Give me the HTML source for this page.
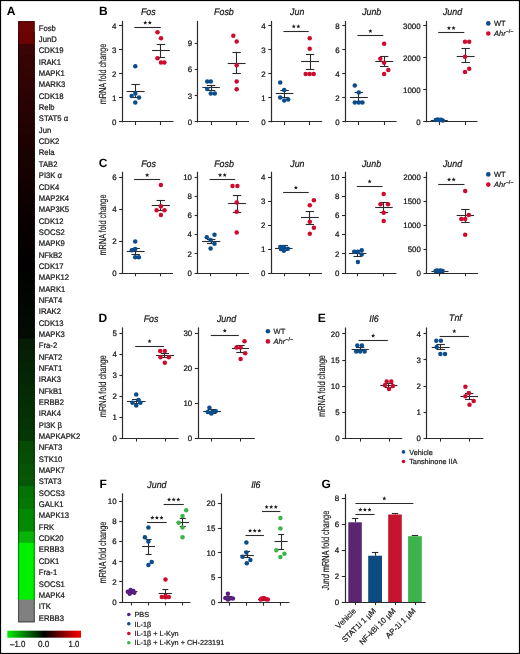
<!DOCTYPE html>
<html><head><meta charset="utf-8"><style>
html,body{margin:0;padding:0;background:#fff;}
body{width:520px;height:654px;overflow:hidden;}
svg{display:block;font-family:"Liberation Sans", sans-serif;text-rendering:geometricPrecision;will-change:transform;}
</style></head><body>
<svg width="520" height="654" viewBox="0 0 520 654">
<rect x="0" y="0" width="520" height="654" fill="#fff"/>
<rect x="18.1" y="21.1" width="16.6" height="22.69" fill="#6e0404"/>
<rect x="18.1" y="32.44" width="16.6" height="22.69" fill="#6a0404"/>
<rect x="18.1" y="43.79" width="16.6" height="22.69" fill="#3a0505"/>
<rect x="18.1" y="55.13" width="16.6" height="22.69" fill="#360404"/>
<rect x="18.1" y="66.47" width="16.6" height="22.69" fill="#330404"/>
<rect x="18.1" y="77.81" width="16.6" height="22.69" fill="#300404"/>
<rect x="18.1" y="89.16" width="16.6" height="22.69" fill="#2c0303"/>
<rect x="18.1" y="100.5" width="16.6" height="22.69" fill="#280303"/>
<rect x="18.1" y="111.84" width="16.6" height="22.69" fill="#250303"/>
<rect x="18.1" y="123.19" width="16.6" height="22.69" fill="#220303"/>
<rect x="18.1" y="134.53" width="16.6" height="22.69" fill="#1e0202"/>
<rect x="18.1" y="145.87" width="16.6" height="22.69" fill="#1b0202"/>
<rect x="18.1" y="157.22" width="16.6" height="22.69" fill="#180202"/>
<rect x="18.1" y="168.56" width="16.6" height="22.69" fill="#150101"/>
<rect x="18.1" y="179.9" width="16.6" height="22.69" fill="#120101"/>
<rect x="18.1" y="191.25" width="16.6" height="22.69" fill="#0f0101"/>
<rect x="18.1" y="202.59" width="16.6" height="22.69" fill="#0c0101"/>
<rect x="18.1" y="213.93" width="16.6" height="22.69" fill="#0a0000"/>
<rect x="18.1" y="225.27" width="16.6" height="22.69" fill="#080000"/>
<rect x="18.1" y="236.62" width="16.6" height="22.69" fill="#060000"/>
<rect x="18.1" y="247.96" width="16.6" height="22.69" fill="#040000"/>
<rect x="18.1" y="259.3" width="16.6" height="22.69" fill="#020000"/>
<rect x="18.1" y="270.65" width="16.6" height="22.69" fill="#010301"/>
<rect x="18.1" y="281.99" width="16.6" height="22.69" fill="#010501"/>
<rect x="18.1" y="293.33" width="16.6" height="22.69" fill="#020602"/>
<rect x="18.1" y="304.68" width="16.6" height="22.69" fill="#020802"/>
<rect x="18.1" y="316.02" width="16.6" height="22.69" fill="#030903"/>
<rect x="18.1" y="327.36" width="16.6" height="22.69" fill="#030b03"/>
<rect x="18.1" y="338.7" width="16.6" height="22.69" fill="#051d05"/>
<rect x="18.1" y="350.05" width="16.6" height="22.69" fill="#052005"/>
<rect x="18.1" y="361.39" width="16.6" height="22.69" fill="#052305"/>
<rect x="18.1" y="372.73" width="16.6" height="22.69" fill="#052605"/>
<rect x="18.1" y="384.08" width="16.6" height="22.69" fill="#052a05"/>
<rect x="18.1" y="395.42" width="16.6" height="22.69" fill="#052d05"/>
<rect x="18.1" y="406.76" width="16.6" height="22.69" fill="#053005"/>
<rect x="18.1" y="418.11" width="16.6" height="22.69" fill="#053305"/>
<rect x="18.1" y="429.45" width="16.6" height="22.69" fill="#053605"/>
<rect x="18.1" y="440.79" width="16.6" height="22.69" fill="#064a06"/>
<rect x="18.1" y="452.13" width="16.6" height="22.69" fill="#064e06"/>
<rect x="18.1" y="463.48" width="16.6" height="22.69" fill="#065406"/>
<rect x="18.1" y="474.82" width="16.6" height="22.69" fill="#065806"/>
<rect x="18.1" y="486.16" width="16.6" height="22.69" fill="#057205"/>
<rect x="18.1" y="497.51" width="16.6" height="22.69" fill="#057705"/>
<rect x="18.1" y="508.85" width="16.6" height="22.69" fill="#038803"/>
<rect x="18.1" y="520.19" width="16.6" height="22.69" fill="#038a03"/>
<rect x="18.1" y="531.53" width="16.6" height="22.69" fill="#08b408"/>
<rect x="18.1" y="542.88" width="16.6" height="22.69" fill="#00f000"/>
<rect x="18.1" y="554.22" width="16.6" height="22.69" fill="#00f000"/>
<rect x="18.1" y="565.56" width="16.6" height="22.69" fill="#00f000"/>
<rect x="18.1" y="576.91" width="16.6" height="22.69" fill="#00f000"/>
<rect x="18.1" y="588.25" width="16.6" height="22.69" fill="#00f000"/>
<rect x="18.1" y="599.59" width="16.6" height="22.69" fill="#808080"/>
<rect x="18.1" y="610.94" width="16.6" height="11.34" fill="#808080"/>
<rect x="18.6" y="21.6" width="15.6" height="600.18" fill="none" stroke="#000" stroke-opacity="0.45" stroke-width="1.0"/>
<g transform="translate(38.8,0) scale(0.95,1)">
<text x="0" y="30.7" font-size="8.1" text-anchor="start" font-weight="normal" font-style="normal" fill="#141414" stroke="#141414" stroke-width="0.22">Fosb</text>
<text x="0" y="42.04" font-size="8.1" text-anchor="start" font-weight="normal" font-style="normal" fill="#141414" stroke="#141414" stroke-width="0.22">JunD</text>
<text x="0" y="53.39" font-size="8.1" text-anchor="start" font-weight="normal" font-style="normal" fill="#141414" stroke="#141414" stroke-width="0.22">CDK19</text>
<text x="0" y="64.73" font-size="8.1" text-anchor="start" font-weight="normal" font-style="normal" fill="#141414" stroke="#141414" stroke-width="0.22">IRAK1</text>
<text x="0" y="76.07" font-size="8.1" text-anchor="start" font-weight="normal" font-style="normal" fill="#141414" stroke="#141414" stroke-width="0.22">MAPK1</text>
<text x="0" y="87.42" font-size="8.1" text-anchor="start" font-weight="normal" font-style="normal" fill="#141414" stroke="#141414" stroke-width="0.22">MARK3</text>
<text x="0" y="98.76" font-size="8.1" text-anchor="start" font-weight="normal" font-style="normal" fill="#141414" stroke="#141414" stroke-width="0.22">CDK18</text>
<text x="0" y="110.1" font-size="8.1" text-anchor="start" font-weight="normal" font-style="normal" fill="#141414" stroke="#141414" stroke-width="0.22">Relb</text>
<text x="0" y="121.44" font-size="8.1" text-anchor="start" font-weight="normal" font-style="normal" fill="#141414" stroke="#141414" stroke-width="0.22">STAT5 &#945;</text>
<text x="0" y="132.79" font-size="8.1" text-anchor="start" font-weight="normal" font-style="normal" fill="#141414" stroke="#141414" stroke-width="0.22">Jun</text>
<text x="0" y="144.13" font-size="8.1" text-anchor="start" font-weight="normal" font-style="normal" fill="#141414" stroke="#141414" stroke-width="0.22">CDK2</text>
<text x="0" y="155.47" font-size="8.1" text-anchor="start" font-weight="normal" font-style="normal" fill="#141414" stroke="#141414" stroke-width="0.22">Rela</text>
<text x="0" y="166.82" font-size="8.1" text-anchor="start" font-weight="normal" font-style="normal" fill="#141414" stroke="#141414" stroke-width="0.22">TAB2</text>
<text x="0" y="178.16" font-size="8.1" text-anchor="start" font-weight="normal" font-style="normal" fill="#141414" stroke="#141414" stroke-width="0.22">PI3K &#945;</text>
<text x="0" y="189.5" font-size="8.1" text-anchor="start" font-weight="normal" font-style="normal" fill="#141414" stroke="#141414" stroke-width="0.22">CDK4</text>
<text x="0" y="200.84" font-size="8.1" text-anchor="start" font-weight="normal" font-style="normal" fill="#141414" stroke="#141414" stroke-width="0.22">MAP2K4</text>
<text x="0" y="212.19" font-size="8.1" text-anchor="start" font-weight="normal" font-style="normal" fill="#141414" stroke="#141414" stroke-width="0.22">MAP3K5</text>
<text x="0" y="223.53" font-size="8.1" text-anchor="start" font-weight="normal" font-style="normal" fill="#141414" stroke="#141414" stroke-width="0.22">CDK12</text>
<text x="0" y="234.87" font-size="8.1" text-anchor="start" font-weight="normal" font-style="normal" fill="#141414" stroke="#141414" stroke-width="0.22">SOCS2</text>
<text x="0" y="246.22" font-size="8.1" text-anchor="start" font-weight="normal" font-style="normal" fill="#141414" stroke="#141414" stroke-width="0.22">MAPK9</text>
<text x="0" y="257.56" font-size="8.1" text-anchor="start" font-weight="normal" font-style="normal" fill="#141414" stroke="#141414" stroke-width="0.22">NFkB2</text>
<text x="0" y="268.9" font-size="8.1" text-anchor="start" font-weight="normal" font-style="normal" fill="#141414" stroke="#141414" stroke-width="0.22">CDK17</text>
<text x="0" y="280.25" font-size="8.1" text-anchor="start" font-weight="normal" font-style="normal" fill="#141414" stroke="#141414" stroke-width="0.22">MAPK12</text>
<text x="0" y="291.59" font-size="8.1" text-anchor="start" font-weight="normal" font-style="normal" fill="#141414" stroke="#141414" stroke-width="0.22">MARK1</text>
<text x="0" y="302.93" font-size="8.1" text-anchor="start" font-weight="normal" font-style="normal" fill="#141414" stroke="#141414" stroke-width="0.22">NFAT4</text>
<text x="0" y="314.27" font-size="8.1" text-anchor="start" font-weight="normal" font-style="normal" fill="#141414" stroke="#141414" stroke-width="0.22">IRAK2</text>
<text x="0" y="325.62" font-size="8.1" text-anchor="start" font-weight="normal" font-style="normal" fill="#141414" stroke="#141414" stroke-width="0.22">CDK13</text>
<text x="0" y="336.96" font-size="8.1" text-anchor="start" font-weight="normal" font-style="normal" fill="#141414" stroke="#141414" stroke-width="0.22">MAPK3</text>
<text x="0" y="348.3" font-size="8.1" text-anchor="start" font-weight="normal" font-style="normal" fill="#141414" stroke="#141414" stroke-width="0.22">Fra-2</text>
<text x="0" y="359.65" font-size="8.1" text-anchor="start" font-weight="normal" font-style="normal" fill="#141414" stroke="#141414" stroke-width="0.22">NFAT2</text>
<text x="0" y="370.99" font-size="8.1" text-anchor="start" font-weight="normal" font-style="normal" fill="#141414" stroke="#141414" stroke-width="0.22">NFAT1</text>
<text x="0" y="382.33" font-size="8.1" text-anchor="start" font-weight="normal" font-style="normal" fill="#141414" stroke="#141414" stroke-width="0.22">IRAK3</text>
<text x="0" y="393.68" font-size="8.1" text-anchor="start" font-weight="normal" font-style="normal" fill="#141414" stroke="#141414" stroke-width="0.22">NFkB1</text>
<text x="0" y="405.02" font-size="8.1" text-anchor="start" font-weight="normal" font-style="normal" fill="#141414" stroke="#141414" stroke-width="0.22">ERBB2</text>
<text x="0" y="416.36" font-size="8.1" text-anchor="start" font-weight="normal" font-style="normal" fill="#141414" stroke="#141414" stroke-width="0.22">IRAK4</text>
<text x="0" y="427.7" font-size="8.1" text-anchor="start" font-weight="normal" font-style="normal" fill="#141414" stroke="#141414" stroke-width="0.22">PI3K &#946;</text>
<text x="0" y="439.05" font-size="8.1" text-anchor="start" font-weight="normal" font-style="normal" fill="#141414" stroke="#141414" stroke-width="0.22">MAPKAPK2</text>
<text x="0" y="450.39" font-size="8.1" text-anchor="start" font-weight="normal" font-style="normal" fill="#141414" stroke="#141414" stroke-width="0.22">NFAT3</text>
<text x="0" y="461.73" font-size="8.1" text-anchor="start" font-weight="normal" font-style="normal" fill="#141414" stroke="#141414" stroke-width="0.22">STK10</text>
<text x="0" y="473.08" font-size="8.1" text-anchor="start" font-weight="normal" font-style="normal" fill="#141414" stroke="#141414" stroke-width="0.22">MAPK7</text>
<text x="0" y="484.42" font-size="8.1" text-anchor="start" font-weight="normal" font-style="normal" fill="#141414" stroke="#141414" stroke-width="0.22">STAT3</text>
<text x="0" y="495.76" font-size="8.1" text-anchor="start" font-weight="normal" font-style="normal" fill="#141414" stroke="#141414" stroke-width="0.22">SOCS3</text>
<text x="0" y="507.11" font-size="8.1" text-anchor="start" font-weight="normal" font-style="normal" fill="#141414" stroke="#141414" stroke-width="0.22">GALK1</text>
<text x="0" y="518.45" font-size="8.1" text-anchor="start" font-weight="normal" font-style="normal" fill="#141414" stroke="#141414" stroke-width="0.22">MAPK13</text>
<text x="0" y="529.79" font-size="8.1" text-anchor="start" font-weight="normal" font-style="normal" fill="#141414" stroke="#141414" stroke-width="0.22">FRK</text>
<text x="0" y="541.13" font-size="8.1" text-anchor="start" font-weight="normal" font-style="normal" fill="#141414" stroke="#141414" stroke-width="0.22">CDK20</text>
<text x="0" y="552.48" font-size="8.1" text-anchor="start" font-weight="normal" font-style="normal" fill="#141414" stroke="#141414" stroke-width="0.22">ERBB3</text>
<text x="0" y="563.82" font-size="8.1" text-anchor="start" font-weight="normal" font-style="normal" fill="#141414" stroke="#141414" stroke-width="0.22">CDK1</text>
<text x="0" y="575.16" font-size="8.1" text-anchor="start" font-weight="normal" font-style="normal" fill="#141414" stroke="#141414" stroke-width="0.22">Fra-1</text>
<text x="0" y="586.51" font-size="8.1" text-anchor="start" font-weight="normal" font-style="normal" fill="#141414" stroke="#141414" stroke-width="0.22">SOCS1</text>
<text x="0" y="597.85" font-size="8.1" text-anchor="start" font-weight="normal" font-style="normal" fill="#141414" stroke="#141414" stroke-width="0.22">MAPK4</text>
<text x="0" y="609.19" font-size="8.1" text-anchor="start" font-weight="normal" font-style="normal" fill="#141414" stroke="#141414" stroke-width="0.22">ITK</text>
<text x="0" y="620.54" font-size="8.1" text-anchor="start" font-weight="normal" font-style="normal" fill="#141414" stroke="#141414" stroke-width="0.22">ERBB3</text>
</g>
<defs><linearGradient id="cb" x1="0" x2="1" y1="0" y2="0"><stop offset="0" stop-color="#00f000"/><stop offset="0.5" stop-color="#000"/><stop offset="1" stop-color="#ff0000"/></linearGradient></defs>
<rect x="7.3" y="630.7" width="73.7" height="7" fill="url(#cb)"/>
<text x="10" y="647.3" font-size="8.8" text-anchor="start" font-weight="normal" font-style="normal" fill="#141414" textLength="15.4" lengthAdjust="spacingAndGlyphs" stroke="#141414" stroke-width="0.22">&#8211;1.0</text>
<text x="38" y="647.3" font-size="8.8" text-anchor="start" font-weight="normal" font-style="normal" fill="#141414" textLength="11.4" lengthAdjust="spacingAndGlyphs" stroke="#141414" stroke-width="0.22">0.0</text>
<text x="68.6" y="647.3" font-size="8.8" text-anchor="start" font-weight="normal" font-style="normal" fill="#141414" textLength="10.8" lengthAdjust="spacingAndGlyphs" stroke="#141414" stroke-width="0.22">1.0</text>
<text x="6.7" y="14.9" font-size="12" text-anchor="start" font-weight="bold" font-style="normal" fill="#000">A</text>
<text x="99" y="14.9" font-size="12" text-anchor="start" font-weight="bold" font-style="normal" fill="#000">B</text>
<text x="98.8" y="166.5" font-size="12" text-anchor="start" font-weight="bold" font-style="normal" fill="#000">C</text>
<text x="98.5" y="322" font-size="12" text-anchor="start" font-weight="bold" font-style="normal" fill="#000">D</text>
<text x="317.8" y="322.2" font-size="12" text-anchor="start" font-weight="bold" font-style="normal" fill="#000">E</text>
<text x="99.6" y="487.9" font-size="12" text-anchor="start" font-weight="bold" font-style="normal" fill="#000">F</text>
<text x="321.4" y="487.7" font-size="12" text-anchor="start" font-weight="bold" font-style="normal" fill="#000">G</text>
<line x1="122.5" y1="20.9" x2="122.5" y2="122.35" stroke="#2b2b2b" stroke-width="1.2"/>
<line x1="121.6" y1="121.5" x2="173.5" y2="121.5" stroke="#2b2b2b" stroke-width="1.2"/>
<line x1="119" y1="121.5" x2="122.2" y2="121.5" stroke="#2b2b2b" stroke-width="1.1"/>
<text x="116.4" y="124.65" font-size="7.9" text-anchor="end" font-weight="normal" font-style="normal" fill="#111" stroke="#111" stroke-width="0.22">0</text>
<line x1="119" y1="97.5" x2="122.2" y2="97.5" stroke="#2b2b2b" stroke-width="1.1"/>
<text x="116.4" y="100.65" font-size="7.9" text-anchor="end" font-weight="normal" font-style="normal" fill="#111" stroke="#111" stroke-width="0.22">1</text>
<line x1="119" y1="73.5" x2="122.2" y2="73.5" stroke="#2b2b2b" stroke-width="1.1"/>
<text x="116.4" y="76.65" font-size="7.9" text-anchor="end" font-weight="normal" font-style="normal" fill="#111" stroke="#111" stroke-width="0.22">2</text>
<line x1="119" y1="49.5" x2="122.2" y2="49.5" stroke="#2b2b2b" stroke-width="1.1"/>
<text x="116.4" y="52.65" font-size="7.9" text-anchor="end" font-weight="normal" font-style="normal" fill="#111" stroke="#111" stroke-width="0.22">3</text>
<line x1="119" y1="25.5" x2="122.2" y2="25.5" stroke="#2b2b2b" stroke-width="1.1"/>
<text x="116.4" y="28.65" font-size="7.9" text-anchor="end" font-weight="normal" font-style="normal" fill="#111" stroke="#111" stroke-width="0.22">4</text>
<line x1="135.5" y1="121.8" x2="135.5" y2="125.1" stroke="#2b2b2b" stroke-width="1.1"/>
<line x1="160.5" y1="121.8" x2="160.5" y2="125.1" stroke="#2b2b2b" stroke-width="1.1"/>
<g transform="translate(148.3,15.4) scale(0.92,1)">
<text x="0" y="0" font-size="9.6" text-anchor="middle" font-weight="normal" font-style="italic" fill="#141414" stroke="#141414" stroke-width="0.22">Fos</text>
</g>
<g transform="translate(105.9,74) rotate(-90)">
<text x="0" y="0" font-size="10.2" text-anchor="middle" font-weight="normal" font-style="normal" fill="#141414" textLength="60.7" lengthAdjust="spacingAndGlyphs" stroke="#141414" stroke-width="0.14">mRNA fold change</text>
</g>
<line x1="134.3" y1="27.5" x2="160.8" y2="27.5" stroke="#2b2b2b" stroke-width="1.1"/>
<polygon points="145.25,20.5 145.81,21.93 147.34,22.02 146.15,22.99 146.54,24.48 145.25,23.65 143.96,24.48 144.35,22.99 143.16,22.02 144.69,21.93" fill="#1a1a1a"/>
<polygon points="149.85,20.5 150.41,21.93 151.94,22.02 150.75,22.99 151.14,24.48 149.85,23.65 148.56,24.48 148.95,22.99 147.76,22.02 149.29,21.93" fill="#1a1a1a"/>
<line x1="126.6" y1="91.5" x2="144.6" y2="91.5" stroke="#2b2b2b" stroke-width="1.1"/>
<line x1="135.5" y1="84.4" x2="135.5" y2="97.8" stroke="#2b2b2b" stroke-width="1.1"/>
<line x1="131.4" y1="84.5" x2="139.8" y2="84.5" stroke="#2b2b2b" stroke-width="1.1"/>
<line x1="131.4" y1="97.5" x2="139.8" y2="97.5" stroke="#2b2b2b" stroke-width="1.1"/>
<line x1="152.1" y1="50.5" x2="169.8" y2="50.5" stroke="#2b2b2b" stroke-width="1.1"/>
<line x1="160.5" y1="44.4" x2="160.5" y2="57.3" stroke="#2b2b2b" stroke-width="1.1"/>
<line x1="156.75" y1="44.5" x2="165.15" y2="44.5" stroke="#2b2b2b" stroke-width="1.1"/>
<line x1="156.75" y1="57.5" x2="165.15" y2="57.5" stroke="#2b2b2b" stroke-width="1.1"/>
<circle cx="135.3" cy="66.3" r="2.25" fill="#0b4c8c"/>
<circle cx="131.6" cy="96.1" r="2.25" fill="#0b4c8c"/>
<circle cx="135.3" cy="93.4" r="2.25" fill="#0b4c8c"/>
<circle cx="139" cy="97.6" r="2.25" fill="#0b4c8c"/>
<circle cx="135.3" cy="102.4" r="2.25" fill="#0b4c8c"/>
<circle cx="157.5" cy="32.2" r="2.25" fill="#cf0a2c"/>
<circle cx="161" cy="38.2" r="2.25" fill="#cf0a2c"/>
<circle cx="157.5" cy="58.3" r="2.25" fill="#cf0a2c"/>
<circle cx="161" cy="62.5" r="2.25" fill="#cf0a2c"/>
<circle cx="164.4" cy="62.5" r="2.25" fill="#cf0a2c"/>
<line x1="197.5" y1="20.9" x2="197.5" y2="122.35" stroke="#2b2b2b" stroke-width="1.2"/>
<line x1="197.3" y1="121.5" x2="249" y2="121.5" stroke="#2b2b2b" stroke-width="1.2"/>
<line x1="194.7" y1="121.5" x2="197.9" y2="121.5" stroke="#2b2b2b" stroke-width="1.1"/>
<text x="192.1" y="124.65" font-size="7.9" text-anchor="end" font-weight="normal" font-style="normal" fill="#111" stroke="#111" stroke-width="0.22">0</text>
<line x1="194.7" y1="95.5" x2="197.9" y2="95.5" stroke="#2b2b2b" stroke-width="1.1"/>
<text x="192.1" y="98.55" font-size="7.9" text-anchor="end" font-weight="normal" font-style="normal" fill="#111" stroke="#111" stroke-width="0.22">3</text>
<line x1="194.7" y1="69.5" x2="197.9" y2="69.5" stroke="#2b2b2b" stroke-width="1.1"/>
<text x="192.1" y="72.45" font-size="7.9" text-anchor="end" font-weight="normal" font-style="normal" fill="#111" stroke="#111" stroke-width="0.22">6</text>
<line x1="194.7" y1="43.5" x2="197.9" y2="43.5" stroke="#2b2b2b" stroke-width="1.1"/>
<text x="192.1" y="46.35" font-size="7.9" text-anchor="end" font-weight="normal" font-style="normal" fill="#111" stroke="#111" stroke-width="0.22">9</text>
<line x1="211.5" y1="121.8" x2="211.5" y2="125.1" stroke="#2b2b2b" stroke-width="1.1"/>
<line x1="236.5" y1="121.8" x2="236.5" y2="125.1" stroke="#2b2b2b" stroke-width="1.1"/>
<g transform="translate(223.9,15.4) scale(0.92,1)">
<text x="0" y="0" font-size="9.6" text-anchor="middle" font-weight="normal" font-style="italic" fill="#141414" stroke="#141414" stroke-width="0.22">Fosb</text>
</g>
<line x1="202.4" y1="87.5" x2="219.8" y2="87.5" stroke="#2b2b2b" stroke-width="1.1"/>
<line x1="211.5" y1="85.2" x2="211.5" y2="90.1" stroke="#2b2b2b" stroke-width="1.1"/>
<line x1="206.9" y1="85.5" x2="215.3" y2="85.5" stroke="#2b2b2b" stroke-width="1.1"/>
<line x1="206.9" y1="90.5" x2="215.3" y2="90.5" stroke="#2b2b2b" stroke-width="1.1"/>
<line x1="227.7" y1="63.5" x2="245.6" y2="63.5" stroke="#2b2b2b" stroke-width="1.1"/>
<line x1="236.5" y1="52.1" x2="236.5" y2="73" stroke="#2b2b2b" stroke-width="1.1"/>
<line x1="232.45" y1="52.5" x2="240.85" y2="52.5" stroke="#2b2b2b" stroke-width="1.1"/>
<line x1="232.45" y1="73.5" x2="240.85" y2="73.5" stroke="#2b2b2b" stroke-width="1.1"/>
<circle cx="207.2" cy="81.6" r="2.25" fill="#0b4c8c"/>
<circle cx="210.8" cy="81.6" r="2.25" fill="#0b4c8c"/>
<circle cx="207.2" cy="89" r="2.25" fill="#0b4c8c"/>
<circle cx="210.8" cy="93.5" r="2.25" fill="#0b4c8c"/>
<circle cx="214.8" cy="93.5" r="2.25" fill="#0b4c8c"/>
<circle cx="233.3" cy="35.8" r="2.25" fill="#cf0a2c"/>
<circle cx="236.7" cy="41.4" r="2.25" fill="#cf0a2c"/>
<circle cx="236.7" cy="65.3" r="2.25" fill="#cf0a2c"/>
<circle cx="236.7" cy="81.6" r="2.25" fill="#cf0a2c"/>
<circle cx="236.7" cy="89.2" r="2.25" fill="#cf0a2c"/>
<line x1="271.5" y1="20.9" x2="271.5" y2="122.35" stroke="#2b2b2b" stroke-width="1.2"/>
<line x1="270.9" y1="121.5" x2="322.2" y2="121.5" stroke="#2b2b2b" stroke-width="1.2"/>
<line x1="268.3" y1="121.5" x2="271.5" y2="121.5" stroke="#2b2b2b" stroke-width="1.1"/>
<text x="265.7" y="124.65" font-size="7.9" text-anchor="end" font-weight="normal" font-style="normal" fill="#111" stroke="#111" stroke-width="0.22">0</text>
<line x1="268.3" y1="97.5" x2="271.5" y2="97.5" stroke="#2b2b2b" stroke-width="1.1"/>
<text x="265.7" y="100.65" font-size="7.9" text-anchor="end" font-weight="normal" font-style="normal" fill="#111" stroke="#111" stroke-width="0.22">1</text>
<line x1="268.3" y1="73.5" x2="271.5" y2="73.5" stroke="#2b2b2b" stroke-width="1.1"/>
<text x="265.7" y="76.65" font-size="7.9" text-anchor="end" font-weight="normal" font-style="normal" fill="#111" stroke="#111" stroke-width="0.22">2</text>
<line x1="268.3" y1="49.5" x2="271.5" y2="49.5" stroke="#2b2b2b" stroke-width="1.1"/>
<text x="265.7" y="52.65" font-size="7.9" text-anchor="end" font-weight="normal" font-style="normal" fill="#111" stroke="#111" stroke-width="0.22">3</text>
<line x1="268.3" y1="25.5" x2="271.5" y2="25.5" stroke="#2b2b2b" stroke-width="1.1"/>
<text x="265.7" y="28.65" font-size="7.9" text-anchor="end" font-weight="normal" font-style="normal" fill="#111" stroke="#111" stroke-width="0.22">4</text>
<line x1="284.5" y1="121.8" x2="284.5" y2="125.1" stroke="#2b2b2b" stroke-width="1.1"/>
<line x1="309.5" y1="121.8" x2="309.5" y2="125.1" stroke="#2b2b2b" stroke-width="1.1"/>
<g transform="translate(297.2,15.4) scale(0.92,1)">
<text x="0" y="0" font-size="9.6" text-anchor="middle" font-weight="normal" font-style="italic" fill="#141414" stroke="#141414" stroke-width="0.22">Jun</text>
</g>
<line x1="283.4" y1="31.5" x2="308.7" y2="31.5" stroke="#2b2b2b" stroke-width="1.1"/>
<polygon points="293.75,24.3 294.31,25.73 295.84,25.82 294.65,26.79 295.04,28.28 293.75,27.45 292.46,28.28 292.85,26.79 291.66,25.82 293.19,25.73" fill="#1a1a1a"/>
<polygon points="298.35,24.3 298.91,25.73 300.44,25.82 299.25,26.79 299.64,28.28 298.35,27.45 297.06,28.28 297.45,26.79 296.26,25.82 297.79,25.73" fill="#1a1a1a"/>
<line x1="275.8" y1="93.5" x2="293.4" y2="93.5" stroke="#2b2b2b" stroke-width="1.1"/>
<line x1="284.5" y1="90.9" x2="284.5" y2="97.1" stroke="#2b2b2b" stroke-width="1.1"/>
<line x1="280.4" y1="90.5" x2="288.8" y2="90.5" stroke="#2b2b2b" stroke-width="1.1"/>
<line x1="280.4" y1="97.5" x2="288.8" y2="97.5" stroke="#2b2b2b" stroke-width="1.1"/>
<line x1="301.1" y1="61.5" x2="319" y2="61.5" stroke="#2b2b2b" stroke-width="1.1"/>
<line x1="310.5" y1="54.1" x2="310.5" y2="69.1" stroke="#2b2b2b" stroke-width="1.1"/>
<line x1="305.85" y1="54.5" x2="314.25" y2="54.5" stroke="#2b2b2b" stroke-width="1.1"/>
<line x1="305.85" y1="69.5" x2="314.25" y2="69.5" stroke="#2b2b2b" stroke-width="1.1"/>
<circle cx="280.2" cy="82.6" r="2.25" fill="#0b4c8c"/>
<circle cx="284.2" cy="90" r="2.25" fill="#0b4c8c"/>
<circle cx="280.2" cy="97.5" r="2.25" fill="#0b4c8c"/>
<circle cx="284.2" cy="100.5" r="2.25" fill="#0b4c8c"/>
<circle cx="288.2" cy="99.5" r="2.25" fill="#0b4c8c"/>
<circle cx="309.7" cy="38.2" r="2.25" fill="#cf0a2c"/>
<circle cx="309.7" cy="48.8" r="2.25" fill="#cf0a2c"/>
<circle cx="305.7" cy="74" r="2.25" fill="#cf0a2c"/>
<circle cx="309.7" cy="74" r="2.25" fill="#cf0a2c"/>
<circle cx="313.7" cy="74" r="2.25" fill="#cf0a2c"/>
<line x1="345.5" y1="20.9" x2="345.5" y2="122.35" stroke="#2b2b2b" stroke-width="1.2"/>
<line x1="344.9" y1="121.5" x2="396.6" y2="121.5" stroke="#2b2b2b" stroke-width="1.2"/>
<line x1="342.3" y1="121.5" x2="345.5" y2="121.5" stroke="#2b2b2b" stroke-width="1.1"/>
<text x="339.7" y="124.65" font-size="7.9" text-anchor="end" font-weight="normal" font-style="normal" fill="#111" stroke="#111" stroke-width="0.22">0</text>
<line x1="342.3" y1="97.5" x2="345.5" y2="97.5" stroke="#2b2b2b" stroke-width="1.1"/>
<text x="339.7" y="100.65" font-size="7.9" text-anchor="end" font-weight="normal" font-style="normal" fill="#111" stroke="#111" stroke-width="0.22">2</text>
<line x1="342.3" y1="73.5" x2="345.5" y2="73.5" stroke="#2b2b2b" stroke-width="1.1"/>
<text x="339.7" y="76.65" font-size="7.9" text-anchor="end" font-weight="normal" font-style="normal" fill="#111" stroke="#111" stroke-width="0.22">4</text>
<line x1="342.3" y1="49.5" x2="345.5" y2="49.5" stroke="#2b2b2b" stroke-width="1.1"/>
<text x="339.7" y="52.65" font-size="7.9" text-anchor="end" font-weight="normal" font-style="normal" fill="#111" stroke="#111" stroke-width="0.22">6</text>
<line x1="342.3" y1="25.5" x2="345.5" y2="25.5" stroke="#2b2b2b" stroke-width="1.1"/>
<text x="339.7" y="28.65" font-size="7.9" text-anchor="end" font-weight="normal" font-style="normal" fill="#111" stroke="#111" stroke-width="0.22">8</text>
<line x1="358.5" y1="121.8" x2="358.5" y2="125.1" stroke="#2b2b2b" stroke-width="1.1"/>
<line x1="384.5" y1="121.8" x2="384.5" y2="125.1" stroke="#2b2b2b" stroke-width="1.1"/>
<g transform="translate(371.7,15.4) scale(0.92,1)">
<text x="0" y="0" font-size="9.6" text-anchor="middle" font-weight="normal" font-style="italic" fill="#141414" stroke="#141414" stroke-width="0.22">Junb</text>
</g>
<line x1="357.4" y1="35.5" x2="383.3" y2="35.5" stroke="#2b2b2b" stroke-width="1.1"/>
<polygon points="370.35,28.9 370.91,30.33 372.44,30.42 371.25,31.39 371.64,32.88 370.35,32.05 369.06,32.88 369.45,31.39 368.26,30.42 369.79,30.33" fill="#1a1a1a"/>
<line x1="349.9" y1="97.5" x2="367.8" y2="97.5" stroke="#2b2b2b" stroke-width="1.1"/>
<line x1="358.5" y1="92.5" x2="358.5" y2="101.9" stroke="#2b2b2b" stroke-width="1.1"/>
<line x1="354.65" y1="92.5" x2="363.05" y2="92.5" stroke="#2b2b2b" stroke-width="1.1"/>
<line x1="354.65" y1="101.5" x2="363.05" y2="101.5" stroke="#2b2b2b" stroke-width="1.1"/>
<line x1="375.3" y1="61.5" x2="393.2" y2="61.5" stroke="#2b2b2b" stroke-width="1.1"/>
<line x1="384.5" y1="56.7" x2="384.5" y2="66.7" stroke="#2b2b2b" stroke-width="1.1"/>
<line x1="380.05" y1="56.5" x2="388.45" y2="56.5" stroke="#2b2b2b" stroke-width="1.1"/>
<line x1="380.05" y1="66.5" x2="388.45" y2="66.5" stroke="#2b2b2b" stroke-width="1.1"/>
<circle cx="354.8" cy="85.6" r="2.25" fill="#0b4c8c"/>
<circle cx="358.8" cy="92.5" r="2.25" fill="#0b4c8c"/>
<circle cx="354.8" cy="102.5" r="2.25" fill="#0b4c8c"/>
<circle cx="358.8" cy="102.5" r="2.25" fill="#0b4c8c"/>
<circle cx="362.4" cy="102.5" r="2.25" fill="#0b4c8c"/>
<circle cx="384.1" cy="43.8" r="2.25" fill="#cf0a2c"/>
<circle cx="380.3" cy="58.7" r="2.25" fill="#cf0a2c"/>
<circle cx="384.1" cy="62.7" r="2.25" fill="#cf0a2c"/>
<circle cx="388.3" cy="70" r="2.25" fill="#cf0a2c"/>
<circle cx="384.1" cy="74" r="2.25" fill="#cf0a2c"/>
<line x1="426.5" y1="20.9" x2="426.5" y2="122.35" stroke="#2b2b2b" stroke-width="1.2"/>
<line x1="425.8" y1="121.5" x2="477.5" y2="121.5" stroke="#2b2b2b" stroke-width="1.2"/>
<line x1="423.2" y1="121.5" x2="426.4" y2="121.5" stroke="#2b2b2b" stroke-width="1.1"/>
<text x="420.6" y="124.65" font-size="7.9" text-anchor="end" font-weight="normal" font-style="normal" fill="#111" stroke="#111" stroke-width="0.22">0</text>
<line x1="423.2" y1="89.5" x2="426.4" y2="89.5" stroke="#2b2b2b" stroke-width="1.1"/>
<text x="420.6" y="92.65" font-size="7.9" text-anchor="end" font-weight="normal" font-style="normal" fill="#111" stroke="#111" stroke-width="0.22">1000</text>
<line x1="423.2" y1="57.5" x2="426.4" y2="57.5" stroke="#2b2b2b" stroke-width="1.1"/>
<text x="420.6" y="60.65" font-size="7.9" text-anchor="end" font-weight="normal" font-style="normal" fill="#111" stroke="#111" stroke-width="0.22">2000</text>
<line x1="423.2" y1="25.5" x2="426.4" y2="25.5" stroke="#2b2b2b" stroke-width="1.1"/>
<text x="420.6" y="28.65" font-size="7.9" text-anchor="end" font-weight="normal" font-style="normal" fill="#111" stroke="#111" stroke-width="0.22">3000</text>
<line x1="439.5" y1="121.8" x2="439.5" y2="125.1" stroke="#2b2b2b" stroke-width="1.1"/>
<line x1="465.5" y1="121.8" x2="465.5" y2="125.1" stroke="#2b2b2b" stroke-width="1.1"/>
<g transform="translate(452.5,15.4) scale(0.92,1)">
<text x="0" y="0" font-size="9.6" text-anchor="middle" font-weight="normal" font-style="italic" fill="#141414" stroke="#141414" stroke-width="0.22">Jund</text>
</g>
<line x1="438.2" y1="32.5" x2="464.3" y2="32.5" stroke="#2b2b2b" stroke-width="1.1"/>
<polygon points="448.95,25.9 449.51,27.33 451.04,27.42 449.85,28.39 450.24,29.88 448.95,29.05 447.66,29.88 448.05,28.39 446.86,27.42 448.39,27.33" fill="#1a1a1a"/>
<polygon points="453.55,25.9 454.11,27.33 455.64,27.42 454.45,28.39 454.84,29.88 453.55,29.05 452.26,29.88 452.65,28.39 451.46,27.42 452.99,27.33" fill="#1a1a1a"/>
<line x1="430.8" y1="120.5" x2="447.7" y2="120.5" stroke="#2b2b2b" stroke-width="1.1"/>
<line x1="439.5" y1="119" x2="439.5" y2="121.5" stroke="#2b2b2b" stroke-width="1.1"/>
<line x1="435.05" y1="119.5" x2="443.45" y2="119.5" stroke="#2b2b2b" stroke-width="1.1"/>
<line x1="435.05" y1="121.5" x2="443.45" y2="121.5" stroke="#2b2b2b" stroke-width="1.1"/>
<line x1="456.7" y1="56.5" x2="474.6" y2="56.5" stroke="#2b2b2b" stroke-width="1.1"/>
<line x1="465.5" y1="48.8" x2="465.5" y2="62.3" stroke="#2b2b2b" stroke-width="1.1"/>
<line x1="461.45" y1="48.5" x2="469.85" y2="48.5" stroke="#2b2b2b" stroke-width="1.1"/>
<line x1="461.45" y1="62.5" x2="469.85" y2="62.5" stroke="#2b2b2b" stroke-width="1.1"/>
<circle cx="435.8" cy="120" r="2.25" fill="#0b4c8c"/>
<circle cx="439.8" cy="120" r="2.25" fill="#0b4c8c"/>
<circle cx="442.8" cy="120.4" r="2.25" fill="#0b4c8c"/>
<circle cx="437.8" cy="119.6" r="2.25" fill="#0b4c8c"/>
<circle cx="441" cy="119.8" r="2.25" fill="#0b4c8c"/>
<circle cx="465" cy="41.8" r="2.25" fill="#cf0a2c"/>
<circle cx="469.2" cy="41.8" r="2.25" fill="#cf0a2c"/>
<circle cx="465" cy="56.7" r="2.25" fill="#cf0a2c"/>
<circle cx="469.2" cy="68.7" r="2.25" fill="#cf0a2c"/>
<circle cx="465" cy="72" r="2.25" fill="#cf0a2c"/>
<line x1="122.5" y1="171.7" x2="122.5" y2="273.55" stroke="#2b2b2b" stroke-width="1.2"/>
<line x1="121.8" y1="273.5" x2="173" y2="273.5" stroke="#2b2b2b" stroke-width="1.2"/>
<line x1="119.2" y1="273.5" x2="122.4" y2="273.5" stroke="#2b2b2b" stroke-width="1.1"/>
<text x="116.6" y="275.85" font-size="7.9" text-anchor="end" font-weight="normal" font-style="normal" fill="#111" stroke="#111" stroke-width="0.22">0</text>
<line x1="119.2" y1="241.5" x2="122.4" y2="241.5" stroke="#2b2b2b" stroke-width="1.1"/>
<text x="116.6" y="243.85" font-size="7.9" text-anchor="end" font-weight="normal" font-style="normal" fill="#111" stroke="#111" stroke-width="0.22">2</text>
<line x1="119.2" y1="209.5" x2="122.4" y2="209.5" stroke="#2b2b2b" stroke-width="1.1"/>
<text x="116.6" y="211.85" font-size="7.9" text-anchor="end" font-weight="normal" font-style="normal" fill="#111" stroke="#111" stroke-width="0.22">4</text>
<line x1="119.2" y1="177.5" x2="122.4" y2="177.5" stroke="#2b2b2b" stroke-width="1.1"/>
<text x="116.6" y="179.85" font-size="7.9" text-anchor="end" font-weight="normal" font-style="normal" fill="#111" stroke="#111" stroke-width="0.22">6</text>
<line x1="135.5" y1="273" x2="135.5" y2="276.3" stroke="#2b2b2b" stroke-width="1.1"/>
<line x1="160.5" y1="273" x2="160.5" y2="276.3" stroke="#2b2b2b" stroke-width="1.1"/>
<g transform="translate(148.5,166.7) scale(0.92,1)">
<text x="0" y="0" font-size="9.6" text-anchor="middle" font-weight="normal" font-style="italic" fill="#141414" stroke="#141414" stroke-width="0.22">Fos</text>
</g>
<g transform="translate(106,225) rotate(-90)">
<text x="0" y="0" font-size="10.2" text-anchor="middle" font-weight="normal" font-style="normal" fill="#141414" textLength="61" lengthAdjust="spacingAndGlyphs" stroke="#141414" stroke-width="0.14">mRNA fold change</text>
</g>
<line x1="134.1" y1="179.5" x2="160.2" y2="179.5" stroke="#2b2b2b" stroke-width="1.1"/>
<polygon points="147.15,172.9 147.71,174.33 149.24,174.42 148.05,175.39 148.44,176.88 147.15,176.05 145.86,176.88 146.25,175.39 145.06,174.42 146.59,174.33" fill="#1a1a1a"/>
<line x1="126.7" y1="251.5" x2="144.6" y2="251.5" stroke="#2b2b2b" stroke-width="1.1"/>
<line x1="135.5" y1="248" x2="135.5" y2="254.4" stroke="#2b2b2b" stroke-width="1.1"/>
<line x1="131.45" y1="248.5" x2="139.85" y2="248.5" stroke="#2b2b2b" stroke-width="1.1"/>
<line x1="131.45" y1="254.5" x2="139.85" y2="254.5" stroke="#2b2b2b" stroke-width="1.1"/>
<line x1="151.7" y1="205.5" x2="169.9" y2="205.5" stroke="#2b2b2b" stroke-width="1.1"/>
<line x1="160.5" y1="200.3" x2="160.5" y2="210.2" stroke="#2b2b2b" stroke-width="1.1"/>
<line x1="156.6" y1="200.5" x2="165" y2="200.5" stroke="#2b2b2b" stroke-width="1.1"/>
<line x1="156.6" y1="210.5" x2="165" y2="210.5" stroke="#2b2b2b" stroke-width="1.1"/>
<circle cx="135.2" cy="241.6" r="2.25" fill="#0b4c8c"/>
<circle cx="131.8" cy="250.2" r="2.25" fill="#0b4c8c"/>
<circle cx="135.2" cy="249.1" r="2.25" fill="#0b4c8c"/>
<circle cx="135.2" cy="257.2" r="2.25" fill="#0b4c8c"/>
<circle cx="138.9" cy="257.2" r="2.25" fill="#0b4c8c"/>
<circle cx="160.9" cy="184.9" r="2.25" fill="#cf0a2c"/>
<circle cx="160.9" cy="206.3" r="2.25" fill="#cf0a2c"/>
<circle cx="156.6" cy="210.2" r="2.25" fill="#cf0a2c"/>
<circle cx="164.5" cy="210.2" r="2.25" fill="#cf0a2c"/>
<circle cx="160.9" cy="214.9" r="2.25" fill="#cf0a2c"/>
<line x1="197.5" y1="171.7" x2="197.5" y2="273.55" stroke="#2b2b2b" stroke-width="1.2"/>
<line x1="197.2" y1="273.5" x2="249" y2="273.5" stroke="#2b2b2b" stroke-width="1.2"/>
<line x1="194.6" y1="273.5" x2="197.8" y2="273.5" stroke="#2b2b2b" stroke-width="1.1"/>
<text x="192" y="275.85" font-size="7.9" text-anchor="end" font-weight="normal" font-style="normal" fill="#111" stroke="#111" stroke-width="0.22">0</text>
<line x1="194.6" y1="253.5" x2="197.8" y2="253.5" stroke="#2b2b2b" stroke-width="1.1"/>
<text x="192" y="256.65" font-size="7.9" text-anchor="end" font-weight="normal" font-style="normal" fill="#111" stroke="#111" stroke-width="0.22">2</text>
<line x1="194.6" y1="234.5" x2="197.8" y2="234.5" stroke="#2b2b2b" stroke-width="1.1"/>
<text x="192" y="237.45" font-size="7.9" text-anchor="end" font-weight="normal" font-style="normal" fill="#111" stroke="#111" stroke-width="0.22">4</text>
<line x1="194.6" y1="215.5" x2="197.8" y2="215.5" stroke="#2b2b2b" stroke-width="1.1"/>
<text x="192" y="218.25" font-size="7.9" text-anchor="end" font-weight="normal" font-style="normal" fill="#111" stroke="#111" stroke-width="0.22">6</text>
<line x1="194.6" y1="196.5" x2="197.8" y2="196.5" stroke="#2b2b2b" stroke-width="1.1"/>
<text x="192" y="199.05" font-size="7.9" text-anchor="end" font-weight="normal" font-style="normal" fill="#111" stroke="#111" stroke-width="0.22">8</text>
<line x1="194.6" y1="177.5" x2="197.8" y2="177.5" stroke="#2b2b2b" stroke-width="1.1"/>
<text x="192" y="179.85" font-size="7.9" text-anchor="end" font-weight="normal" font-style="normal" fill="#111" stroke="#111" stroke-width="0.22">10</text>
<line x1="210.5" y1="273" x2="210.5" y2="276.3" stroke="#2b2b2b" stroke-width="1.1"/>
<line x1="236.5" y1="273" x2="236.5" y2="276.3" stroke="#2b2b2b" stroke-width="1.1"/>
<g transform="translate(224,166.7) scale(0.92,1)">
<text x="0" y="0" font-size="9.6" text-anchor="middle" font-weight="normal" font-style="italic" fill="#141414" stroke="#141414" stroke-width="0.22">Fosb</text>
</g>
<line x1="209.6" y1="179.5" x2="235.2" y2="179.5" stroke="#2b2b2b" stroke-width="1.1"/>
<polygon points="220.1,172.9 220.66,174.33 222.19,174.42 221,175.39 221.39,176.88 220.1,176.05 218.81,176.88 219.2,175.39 218.01,174.42 219.54,174.33" fill="#1a1a1a"/>
<polygon points="224.7,172.9 225.26,174.33 226.79,174.42 225.6,175.39 225.99,176.88 224.7,176.05 223.41,176.88 223.8,175.39 222.61,174.42 224.14,174.33" fill="#1a1a1a"/>
<line x1="202.1" y1="241.5" x2="220.3" y2="241.5" stroke="#2b2b2b" stroke-width="1.1"/>
<line x1="211.5" y1="239.5" x2="211.5" y2="243.7" stroke="#2b2b2b" stroke-width="1.1"/>
<line x1="207" y1="239.5" x2="215.4" y2="239.5" stroke="#2b2b2b" stroke-width="1.1"/>
<line x1="207" y1="243.5" x2="215.4" y2="243.5" stroke="#2b2b2b" stroke-width="1.1"/>
<line x1="228.2" y1="203.5" x2="245.9" y2="203.5" stroke="#2b2b2b" stroke-width="1.1"/>
<line x1="237.5" y1="195.2" x2="237.5" y2="212.7" stroke="#2b2b2b" stroke-width="1.1"/>
<line x1="232.85" y1="195.5" x2="241.25" y2="195.5" stroke="#2b2b2b" stroke-width="1.1"/>
<line x1="232.85" y1="212.5" x2="241.25" y2="212.5" stroke="#2b2b2b" stroke-width="1.1"/>
<circle cx="206.8" cy="237.3" r="2.25" fill="#0b4c8c"/>
<circle cx="214.5" cy="234.8" r="2.25" fill="#0b4c8c"/>
<circle cx="210.6" cy="240.1" r="2.25" fill="#0b4c8c"/>
<circle cx="214.5" cy="243.7" r="2.25" fill="#0b4c8c"/>
<circle cx="210.6" cy="248.4" r="2.25" fill="#0b4c8c"/>
<circle cx="232.5" cy="186" r="2.25" fill="#cf0a2c"/>
<circle cx="237.4" cy="186" r="2.25" fill="#cf0a2c"/>
<circle cx="236.7" cy="202.5" r="2.25" fill="#cf0a2c"/>
<circle cx="236.7" cy="211.7" r="2.25" fill="#cf0a2c"/>
<circle cx="236.7" cy="232.4" r="2.25" fill="#cf0a2c"/>
<line x1="271.5" y1="171.7" x2="271.5" y2="273.55" stroke="#2b2b2b" stroke-width="1.2"/>
<line x1="270.7" y1="273.5" x2="322" y2="273.5" stroke="#2b2b2b" stroke-width="1.2"/>
<line x1="268.1" y1="273.5" x2="271.3" y2="273.5" stroke="#2b2b2b" stroke-width="1.1"/>
<text x="265.5" y="275.85" font-size="7.9" text-anchor="end" font-weight="normal" font-style="normal" fill="#111" stroke="#111" stroke-width="0.22">0</text>
<line x1="268.1" y1="249.5" x2="271.3" y2="249.5" stroke="#2b2b2b" stroke-width="1.1"/>
<text x="265.5" y="251.85" font-size="7.9" text-anchor="end" font-weight="normal" font-style="normal" fill="#111" stroke="#111" stroke-width="0.22">1</text>
<line x1="268.1" y1="225.5" x2="271.3" y2="225.5" stroke="#2b2b2b" stroke-width="1.1"/>
<text x="265.5" y="227.85" font-size="7.9" text-anchor="end" font-weight="normal" font-style="normal" fill="#111" stroke="#111" stroke-width="0.22">2</text>
<line x1="268.1" y1="201.5" x2="271.3" y2="201.5" stroke="#2b2b2b" stroke-width="1.1"/>
<text x="265.5" y="203.85" font-size="7.9" text-anchor="end" font-weight="normal" font-style="normal" fill="#111" stroke="#111" stroke-width="0.22">3</text>
<line x1="268.1" y1="177.5" x2="271.3" y2="177.5" stroke="#2b2b2b" stroke-width="1.1"/>
<text x="265.5" y="179.85" font-size="7.9" text-anchor="end" font-weight="normal" font-style="normal" fill="#111" stroke="#111" stroke-width="0.22">4</text>
<line x1="284.5" y1="273" x2="284.5" y2="276.3" stroke="#2b2b2b" stroke-width="1.1"/>
<line x1="309.5" y1="273" x2="309.5" y2="276.3" stroke="#2b2b2b" stroke-width="1.1"/>
<g transform="translate(297.4,166.7) scale(0.92,1)">
<text x="0" y="0" font-size="9.6" text-anchor="middle" font-weight="normal" font-style="italic" fill="#141414" stroke="#141414" stroke-width="0.22">Jun</text>
</g>
<line x1="283.1" y1="192.5" x2="308.7" y2="192.5" stroke="#2b2b2b" stroke-width="1.1"/>
<polygon points="295.9,185.5 296.46,186.93 297.99,187.02 296.8,187.99 297.19,189.48 295.9,188.65 294.61,189.48 295,187.99 293.81,187.02 295.34,186.93" fill="#1a1a1a"/>
<line x1="275" y1="248.5" x2="292.5" y2="248.5" stroke="#2b2b2b" stroke-width="1.1"/>
<line x1="283.5" y1="245.5" x2="283.5" y2="250.2" stroke="#2b2b2b" stroke-width="1.1"/>
<line x1="279.55" y1="245.5" x2="287.95" y2="245.5" stroke="#2b2b2b" stroke-width="1.1"/>
<line x1="279.55" y1="250.5" x2="287.95" y2="250.5" stroke="#2b2b2b" stroke-width="1.1"/>
<line x1="301" y1="217.5" x2="318.8" y2="217.5" stroke="#2b2b2b" stroke-width="1.1"/>
<line x1="309.5" y1="211" x2="309.5" y2="224" stroke="#2b2b2b" stroke-width="1.1"/>
<line x1="305.7" y1="211.5" x2="314.1" y2="211.5" stroke="#2b2b2b" stroke-width="1.1"/>
<line x1="305.7" y1="224.5" x2="314.1" y2="224.5" stroke="#2b2b2b" stroke-width="1.1"/>
<circle cx="280.3" cy="247" r="2.25" fill="#0b4c8c"/>
<circle cx="283.9" cy="247" r="2.25" fill="#0b4c8c"/>
<circle cx="287.8" cy="248.7" r="2.25" fill="#0b4c8c"/>
<circle cx="283.9" cy="250.8" r="2.25" fill="#0b4c8c"/>
<circle cx="281" cy="249" r="2.25" fill="#0b4c8c"/>
<circle cx="313.9" cy="200.3" r="2.25" fill="#cf0a2c"/>
<circle cx="309.8" cy="205.2" r="2.25" fill="#cf0a2c"/>
<circle cx="309.8" cy="221.7" r="2.25" fill="#cf0a2c"/>
<circle cx="313.9" cy="227.7" r="2.25" fill="#cf0a2c"/>
<circle cx="309.8" cy="233.7" r="2.25" fill="#cf0a2c"/>
<line x1="345.5" y1="171.7" x2="345.5" y2="273.55" stroke="#2b2b2b" stroke-width="1.2"/>
<line x1="344.6" y1="273.5" x2="396.4" y2="273.5" stroke="#2b2b2b" stroke-width="1.2"/>
<line x1="342" y1="273.5" x2="345.2" y2="273.5" stroke="#2b2b2b" stroke-width="1.1"/>
<text x="339.4" y="275.85" font-size="7.9" text-anchor="end" font-weight="normal" font-style="normal" fill="#111" stroke="#111" stroke-width="0.22">0</text>
<line x1="342" y1="253.5" x2="345.2" y2="253.5" stroke="#2b2b2b" stroke-width="1.1"/>
<text x="339.4" y="256.65" font-size="7.9" text-anchor="end" font-weight="normal" font-style="normal" fill="#111" stroke="#111" stroke-width="0.22">2</text>
<line x1="342" y1="234.5" x2="345.2" y2="234.5" stroke="#2b2b2b" stroke-width="1.1"/>
<text x="339.4" y="237.45" font-size="7.9" text-anchor="end" font-weight="normal" font-style="normal" fill="#111" stroke="#111" stroke-width="0.22">4</text>
<line x1="342" y1="215.5" x2="345.2" y2="215.5" stroke="#2b2b2b" stroke-width="1.1"/>
<text x="339.4" y="218.25" font-size="7.9" text-anchor="end" font-weight="normal" font-style="normal" fill="#111" stroke="#111" stroke-width="0.22">6</text>
<line x1="342" y1="196.5" x2="345.2" y2="196.5" stroke="#2b2b2b" stroke-width="1.1"/>
<text x="339.4" y="199.05" font-size="7.9" text-anchor="end" font-weight="normal" font-style="normal" fill="#111" stroke="#111" stroke-width="0.22">8</text>
<line x1="342" y1="177.5" x2="345.2" y2="177.5" stroke="#2b2b2b" stroke-width="1.1"/>
<text x="339.4" y="179.85" font-size="7.9" text-anchor="end" font-weight="normal" font-style="normal" fill="#111" stroke="#111" stroke-width="0.22">10</text>
<line x1="357.5" y1="273" x2="357.5" y2="276.3" stroke="#2b2b2b" stroke-width="1.1"/>
<line x1="383.5" y1="273" x2="383.5" y2="276.3" stroke="#2b2b2b" stroke-width="1.1"/>
<g transform="translate(371.5,166.7) scale(0.92,1)">
<text x="0" y="0" font-size="9.6" text-anchor="middle" font-weight="normal" font-style="italic" fill="#141414" stroke="#141414" stroke-width="0.22">Junb</text>
</g>
<line x1="356.8" y1="186.5" x2="382.5" y2="186.5" stroke="#2b2b2b" stroke-width="1.1"/>
<polygon points="369.65,179.3 370.21,180.73 371.74,180.82 370.55,181.79 370.94,183.28 369.65,182.45 368.36,183.28 368.75,181.79 367.56,180.82 369.09,180.73" fill="#1a1a1a"/>
<line x1="348.9" y1="253.5" x2="366.4" y2="253.5" stroke="#2b2b2b" stroke-width="1.1"/>
<line x1="357.5" y1="250.8" x2="357.5" y2="256.6" stroke="#2b2b2b" stroke-width="1.1"/>
<line x1="353.45" y1="250.5" x2="361.85" y2="250.5" stroke="#2b2b2b" stroke-width="1.1"/>
<line x1="353.45" y1="256.5" x2="361.85" y2="256.5" stroke="#2b2b2b" stroke-width="1.1"/>
<line x1="375.2" y1="207.5" x2="392.7" y2="207.5" stroke="#2b2b2b" stroke-width="1.1"/>
<line x1="383.5" y1="202.5" x2="383.5" y2="212.1" stroke="#2b2b2b" stroke-width="1.1"/>
<line x1="379.75" y1="202.5" x2="388.15" y2="202.5" stroke="#2b2b2b" stroke-width="1.1"/>
<line x1="379.75" y1="212.5" x2="388.15" y2="212.5" stroke="#2b2b2b" stroke-width="1.1"/>
<circle cx="354.2" cy="251.7" r="2.25" fill="#0b4c8c"/>
<circle cx="357.9" cy="251.7" r="2.25" fill="#0b4c8c"/>
<circle cx="361.7" cy="250.2" r="2.25" fill="#0b4c8c"/>
<circle cx="361.7" cy="254.4" r="2.25" fill="#0b4c8c"/>
<circle cx="357.9" cy="261.9" r="2.25" fill="#0b4c8c"/>
<circle cx="383.7" cy="193.9" r="2.25" fill="#cf0a2c"/>
<circle cx="380.5" cy="204.2" r="2.25" fill="#cf0a2c"/>
<circle cx="388" cy="204.2" r="2.25" fill="#cf0a2c"/>
<circle cx="383.7" cy="212.7" r="2.25" fill="#cf0a2c"/>
<circle cx="383.7" cy="220.9" r="2.25" fill="#cf0a2c"/>
<line x1="426.5" y1="171.7" x2="426.5" y2="273.55" stroke="#2b2b2b" stroke-width="1.2"/>
<line x1="426.1" y1="273.5" x2="478" y2="273.5" stroke="#2b2b2b" stroke-width="1.2"/>
<line x1="423.5" y1="273.5" x2="426.7" y2="273.5" stroke="#2b2b2b" stroke-width="1.1"/>
<text x="420.9" y="275.85" font-size="7.9" text-anchor="end" font-weight="normal" font-style="normal" fill="#111" stroke="#111" stroke-width="0.22">0</text>
<line x1="423.5" y1="249.5" x2="426.7" y2="249.5" stroke="#2b2b2b" stroke-width="1.1"/>
<text x="420.9" y="251.85" font-size="7.9" text-anchor="end" font-weight="normal" font-style="normal" fill="#111" stroke="#111" stroke-width="0.22">500</text>
<line x1="423.5" y1="225.5" x2="426.7" y2="225.5" stroke="#2b2b2b" stroke-width="1.1"/>
<text x="420.9" y="227.85" font-size="7.9" text-anchor="end" font-weight="normal" font-style="normal" fill="#111" stroke="#111" stroke-width="0.22">1000</text>
<line x1="423.5" y1="201.5" x2="426.7" y2="201.5" stroke="#2b2b2b" stroke-width="1.1"/>
<text x="420.9" y="203.85" font-size="7.9" text-anchor="end" font-weight="normal" font-style="normal" fill="#111" stroke="#111" stroke-width="0.22">1500</text>
<line x1="423.5" y1="177.5" x2="426.7" y2="177.5" stroke="#2b2b2b" stroke-width="1.1"/>
<text x="420.9" y="179.85" font-size="7.9" text-anchor="end" font-weight="normal" font-style="normal" fill="#111" stroke="#111" stroke-width="0.22">2000</text>
<line x1="439.5" y1="273" x2="439.5" y2="276.3" stroke="#2b2b2b" stroke-width="1.1"/>
<line x1="465.5" y1="273" x2="465.5" y2="276.3" stroke="#2b2b2b" stroke-width="1.1"/>
<g transform="translate(452.5,166.7) scale(0.92,1)">
<text x="0" y="0" font-size="9.6" text-anchor="middle" font-weight="normal" font-style="italic" fill="#141414" stroke="#141414" stroke-width="0.22">Jund</text>
</g>
<line x1="438.2" y1="184.5" x2="464.5" y2="184.5" stroke="#2b2b2b" stroke-width="1.1"/>
<polygon points="449.05,177.4 449.61,178.83 451.14,178.92 449.95,179.89 450.34,181.38 449.05,180.55 447.76,181.38 448.15,179.89 446.96,178.92 448.49,178.83" fill="#1a1a1a"/>
<polygon points="453.65,177.4 454.21,178.83 455.74,178.92 454.55,179.89 454.94,181.38 453.65,180.55 452.36,181.38 452.75,179.89 451.56,178.92 453.09,178.83" fill="#1a1a1a"/>
<line x1="431.4" y1="271.5" x2="448.5" y2="271.5" stroke="#2b2b2b" stroke-width="1.1"/>
<line x1="439.5" y1="269" x2="439.5" y2="272" stroke="#2b2b2b" stroke-width="1.1"/>
<line x1="435.75" y1="269.5" x2="444.15" y2="269.5" stroke="#2b2b2b" stroke-width="1.1"/>
<line x1="435.75" y1="272.5" x2="444.15" y2="272.5" stroke="#2b2b2b" stroke-width="1.1"/>
<line x1="456.6" y1="215.5" x2="474.1" y2="215.5" stroke="#2b2b2b" stroke-width="1.1"/>
<line x1="465.5" y1="209.1" x2="465.5" y2="222.4" stroke="#2b2b2b" stroke-width="1.1"/>
<line x1="461.15" y1="209.5" x2="469.55" y2="209.5" stroke="#2b2b2b" stroke-width="1.1"/>
<line x1="461.15" y1="222.5" x2="469.55" y2="222.5" stroke="#2b2b2b" stroke-width="1.1"/>
<circle cx="435.6" cy="271" r="2.25" fill="#0b4c8c"/>
<circle cx="438.9" cy="271" r="2.25" fill="#0b4c8c"/>
<circle cx="442.5" cy="271" r="2.25" fill="#0b4c8c"/>
<circle cx="437" cy="270.5" r="2.25" fill="#0b4c8c"/>
<circle cx="440.5" cy="270.5" r="2.25" fill="#0b4c8c"/>
<circle cx="465.2" cy="190.9" r="2.25" fill="#cf0a2c"/>
<circle cx="468.8" cy="214.9" r="2.25" fill="#cf0a2c"/>
<circle cx="461.3" cy="219.1" r="2.25" fill="#cf0a2c"/>
<circle cx="465.2" cy="219.1" r="2.25" fill="#cf0a2c"/>
<circle cx="465.2" cy="234.8" r="2.25" fill="#cf0a2c"/>
<line x1="122.5" y1="327.4" x2="122.5" y2="438.75" stroke="#2b2b2b" stroke-width="1.2"/>
<line x1="122" y1="438.5" x2="178.7" y2="438.5" stroke="#2b2b2b" stroke-width="1.2"/>
<line x1="119.4" y1="438.5" x2="122.6" y2="438.5" stroke="#2b2b2b" stroke-width="1.1"/>
<text x="116.8" y="441.05" font-size="7.9" text-anchor="end" font-weight="normal" font-style="normal" fill="#111" stroke="#111" stroke-width="0.22">0</text>
<line x1="119.4" y1="417.5" x2="122.6" y2="417.5" stroke="#2b2b2b" stroke-width="1.1"/>
<text x="116.8" y="420.1" font-size="7.9" text-anchor="end" font-weight="normal" font-style="normal" fill="#111" stroke="#111" stroke-width="0.22">1</text>
<line x1="119.4" y1="396.5" x2="122.6" y2="396.5" stroke="#2b2b2b" stroke-width="1.1"/>
<text x="116.8" y="399.15" font-size="7.9" text-anchor="end" font-weight="normal" font-style="normal" fill="#111" stroke="#111" stroke-width="0.22">2</text>
<line x1="119.4" y1="375.5" x2="122.6" y2="375.5" stroke="#2b2b2b" stroke-width="1.1"/>
<text x="116.8" y="378.2" font-size="7.9" text-anchor="end" font-weight="normal" font-style="normal" fill="#111" stroke="#111" stroke-width="0.22">3</text>
<line x1="119.4" y1="354.5" x2="122.6" y2="354.5" stroke="#2b2b2b" stroke-width="1.1"/>
<text x="116.8" y="357.25" font-size="7.9" text-anchor="end" font-weight="normal" font-style="normal" fill="#111" stroke="#111" stroke-width="0.22">4</text>
<line x1="119.4" y1="333.5" x2="122.6" y2="333.5" stroke="#2b2b2b" stroke-width="1.1"/>
<text x="116.8" y="336.3" font-size="7.9" text-anchor="end" font-weight="normal" font-style="normal" fill="#111" stroke="#111" stroke-width="0.22">5</text>
<line x1="136.5" y1="438.2" x2="136.5" y2="441.5" stroke="#2b2b2b" stroke-width="1.1"/>
<line x1="165.5" y1="438.2" x2="165.5" y2="441.5" stroke="#2b2b2b" stroke-width="1.1"/>
<g transform="translate(151,322.4) scale(0.92,1)">
<text x="0" y="0" font-size="9.6" text-anchor="middle" font-weight="normal" font-style="italic" fill="#141414" stroke="#141414" stroke-width="0.22">Fos</text>
</g>
<g transform="translate(106.2,386.2) rotate(-90)">
<text x="0" y="0" font-size="10.2" text-anchor="middle" font-weight="normal" font-style="normal" fill="#141414" textLength="62" lengthAdjust="spacingAndGlyphs" stroke="#141414" stroke-width="0.14">mRNA fold change</text>
</g>
<line x1="135.2" y1="346.5" x2="163.9" y2="346.5" stroke="#2b2b2b" stroke-width="1.1"/>
<polygon points="149.55,339.1 150.11,340.53 151.64,340.62 150.45,341.59 150.84,343.08 149.55,342.25 148.26,343.08 148.65,341.59 147.46,340.62 148.99,340.53" fill="#1a1a1a"/>
<line x1="127" y1="401.5" x2="145.5" y2="401.5" stroke="#2b2b2b" stroke-width="1.1"/>
<line x1="136.5" y1="399.7" x2="136.5" y2="403" stroke="#2b2b2b" stroke-width="1.1"/>
<line x1="132.05" y1="399.5" x2="140.45" y2="399.5" stroke="#2b2b2b" stroke-width="1.1"/>
<line x1="132.05" y1="403.5" x2="140.45" y2="403.5" stroke="#2b2b2b" stroke-width="1.1"/>
<line x1="155.9" y1="355.5" x2="174" y2="355.5" stroke="#2b2b2b" stroke-width="1.1"/>
<line x1="164.5" y1="353.4" x2="164.5" y2="357" stroke="#2b2b2b" stroke-width="1.1"/>
<line x1="160.75" y1="353.5" x2="169.15" y2="353.5" stroke="#2b2b2b" stroke-width="1.1"/>
<line x1="160.75" y1="357.5" x2="169.15" y2="357.5" stroke="#2b2b2b" stroke-width="1.1"/>
<circle cx="136.2" cy="394.6" r="2.25" fill="#0b4c8c"/>
<circle cx="132.4" cy="402.8" r="2.25" fill="#0b4c8c"/>
<circle cx="138.5" cy="400" r="2.25" fill="#0b4c8c"/>
<circle cx="140.4" cy="402.8" r="2.25" fill="#0b4c8c"/>
<circle cx="136.2" cy="405.4" r="2.25" fill="#0b4c8c"/>
<circle cx="160.2" cy="350.9" r="2.25" fill="#cf0a2c"/>
<circle cx="164.8" cy="350.9" r="2.25" fill="#cf0a2c"/>
<circle cx="160.5" cy="357.3" r="2.25" fill="#cf0a2c"/>
<circle cx="168.8" cy="357.3" r="2.25" fill="#cf0a2c"/>
<circle cx="164.8" cy="362.7" r="2.25" fill="#cf0a2c"/>
<line x1="198.5" y1="327.4" x2="198.5" y2="438.75" stroke="#2b2b2b" stroke-width="1.2"/>
<line x1="197.4" y1="438.5" x2="254.8" y2="438.5" stroke="#2b2b2b" stroke-width="1.2"/>
<line x1="194.8" y1="438.5" x2="198" y2="438.5" stroke="#2b2b2b" stroke-width="1.1"/>
<text x="192.2" y="441.05" font-size="7.9" text-anchor="end" font-weight="normal" font-style="normal" fill="#111" stroke="#111" stroke-width="0.22">0</text>
<line x1="194.8" y1="403.5" x2="198" y2="403.5" stroke="#2b2b2b" stroke-width="1.1"/>
<text x="192.2" y="406.05" font-size="7.9" text-anchor="end" font-weight="normal" font-style="normal" fill="#111" stroke="#111" stroke-width="0.22">10</text>
<line x1="194.8" y1="368.5" x2="198" y2="368.5" stroke="#2b2b2b" stroke-width="1.1"/>
<text x="192.2" y="371.05" font-size="7.9" text-anchor="end" font-weight="normal" font-style="normal" fill="#111" stroke="#111" stroke-width="0.22">20</text>
<line x1="194.8" y1="333.5" x2="198" y2="333.5" stroke="#2b2b2b" stroke-width="1.1"/>
<text x="192.2" y="336.05" font-size="7.9" text-anchor="end" font-weight="normal" font-style="normal" fill="#111" stroke="#111" stroke-width="0.22">30</text>
<line x1="211.5" y1="438.2" x2="211.5" y2="441.5" stroke="#2b2b2b" stroke-width="1.1"/>
<line x1="240.5" y1="438.2" x2="240.5" y2="441.5" stroke="#2b2b2b" stroke-width="1.1"/>
<g transform="translate(226.5,322.4) scale(0.92,1)">
<text x="0" y="0" font-size="9.6" text-anchor="middle" font-weight="normal" font-style="italic" fill="#141414" stroke="#141414" stroke-width="0.22">Jund</text>
</g>
<line x1="210.8" y1="335.5" x2="238.8" y2="335.5" stroke="#2b2b2b" stroke-width="1.1"/>
<polygon points="224.8,328.6 225.36,330.03 226.89,330.12 225.7,331.09 226.09,332.58 224.8,331.75 223.51,332.58 223.9,331.09 222.71,330.12 224.24,330.03" fill="#1a1a1a"/>
<line x1="203.2" y1="411.5" x2="220.9" y2="411.5" stroke="#2b2b2b" stroke-width="1.1"/>
<line x1="212.5" y1="409.5" x2="212.5" y2="413" stroke="#2b2b2b" stroke-width="1.1"/>
<line x1="207.85" y1="409.5" x2="216.25" y2="409.5" stroke="#2b2b2b" stroke-width="1.1"/>
<line x1="207.85" y1="413.5" x2="216.25" y2="413.5" stroke="#2b2b2b" stroke-width="1.1"/>
<line x1="231.9" y1="348.5" x2="249" y2="348.5" stroke="#2b2b2b" stroke-width="1.1"/>
<line x1="240.5" y1="345.8" x2="240.5" y2="352.3" stroke="#2b2b2b" stroke-width="1.1"/>
<line x1="236.25" y1="345.5" x2="244.65" y2="345.5" stroke="#2b2b2b" stroke-width="1.1"/>
<line x1="236.25" y1="352.5" x2="244.65" y2="352.5" stroke="#2b2b2b" stroke-width="1.1"/>
<circle cx="209.4" cy="407.7" r="2.25" fill="#0b4c8c"/>
<circle cx="207.8" cy="411.9" r="2.25" fill="#0b4c8c"/>
<circle cx="212.4" cy="411.9" r="2.25" fill="#0b4c8c"/>
<circle cx="215.8" cy="411.2" r="2.25" fill="#0b4c8c"/>
<circle cx="211.3" cy="413.5" r="2.25" fill="#0b4c8c"/>
<circle cx="244.5" cy="341.3" r="2.25" fill="#cf0a2c"/>
<circle cx="236.5" cy="347.5" r="2.25" fill="#cf0a2c"/>
<circle cx="240.6" cy="347.5" r="2.25" fill="#cf0a2c"/>
<circle cx="245.2" cy="353.2" r="2.25" fill="#cf0a2c"/>
<circle cx="240.6" cy="359.1" r="2.25" fill="#cf0a2c"/>
<line x1="345.5" y1="327.5" x2="345.5" y2="438.85" stroke="#2b2b2b" stroke-width="1.2"/>
<line x1="344.8" y1="438.5" x2="402.3" y2="438.5" stroke="#2b2b2b" stroke-width="1.2"/>
<line x1="342.2" y1="438.5" x2="345.4" y2="438.5" stroke="#2b2b2b" stroke-width="1.1"/>
<text x="339.6" y="441.15" font-size="7.9" text-anchor="end" font-weight="normal" font-style="normal" fill="#111" stroke="#111" stroke-width="0.22">0</text>
<line x1="342.2" y1="412.5" x2="345.4" y2="412.5" stroke="#2b2b2b" stroke-width="1.1"/>
<text x="339.6" y="415.05" font-size="7.9" text-anchor="end" font-weight="normal" font-style="normal" fill="#111" stroke="#111" stroke-width="0.22">5</text>
<line x1="342.2" y1="386.5" x2="345.4" y2="386.5" stroke="#2b2b2b" stroke-width="1.1"/>
<text x="339.6" y="388.95" font-size="7.9" text-anchor="end" font-weight="normal" font-style="normal" fill="#111" stroke="#111" stroke-width="0.22">10</text>
<line x1="342.2" y1="360.5" x2="345.4" y2="360.5" stroke="#2b2b2b" stroke-width="1.1"/>
<text x="339.6" y="362.85" font-size="7.9" text-anchor="end" font-weight="normal" font-style="normal" fill="#111" stroke="#111" stroke-width="0.22">15</text>
<line x1="342.2" y1="333.5" x2="345.4" y2="333.5" stroke="#2b2b2b" stroke-width="1.1"/>
<text x="339.6" y="336.75" font-size="7.9" text-anchor="end" font-weight="normal" font-style="normal" fill="#111" stroke="#111" stroke-width="0.22">20</text>
<line x1="360.5" y1="438.3" x2="360.5" y2="441.6" stroke="#2b2b2b" stroke-width="1.1"/>
<line x1="389.5" y1="438.3" x2="389.5" y2="441.6" stroke="#2b2b2b" stroke-width="1.1"/>
<g transform="translate(374,322.4) scale(0.92,1)">
<text x="0" y="0" font-size="9.6" text-anchor="middle" font-weight="normal" font-style="italic" fill="#141414" stroke="#141414" stroke-width="0.22">Il6</text>
</g>
<g transform="translate(325,386) rotate(-90)">
<text x="0" y="0" font-size="10.2" text-anchor="middle" font-weight="normal" font-style="normal" fill="#141414" textLength="62" lengthAdjust="spacingAndGlyphs" stroke="#141414" stroke-width="0.14">mRNA fold change</text>
</g>
<line x1="358.5" y1="340.5" x2="387.8" y2="340.5" stroke="#2b2b2b" stroke-width="1.1"/>
<polygon points="373.15,333.5 373.71,334.93 375.24,335.02 374.05,335.99 374.44,337.48 373.15,336.65 371.86,337.48 372.25,335.99 371.06,335.02 372.59,334.93" fill="#1a1a1a"/>
<line x1="351.6" y1="349.5" x2="368.8" y2="349.5" stroke="#2b2b2b" stroke-width="1.1"/>
<line x1="360.5" y1="347.5" x2="360.5" y2="350.9" stroke="#2b2b2b" stroke-width="1.1"/>
<line x1="356" y1="347.5" x2="364.4" y2="347.5" stroke="#2b2b2b" stroke-width="1.1"/>
<line x1="356" y1="350.5" x2="364.4" y2="350.5" stroke="#2b2b2b" stroke-width="1.1"/>
<line x1="380.3" y1="385.5" x2="397.5" y2="385.5" stroke="#2b2b2b" stroke-width="1.1"/>
<line x1="388.5" y1="383.5" x2="388.5" y2="387" stroke="#2b2b2b" stroke-width="1.1"/>
<line x1="384.7" y1="383.5" x2="393.1" y2="383.5" stroke="#2b2b2b" stroke-width="1.1"/>
<line x1="384.7" y1="387.5" x2="393.1" y2="387.5" stroke="#2b2b2b" stroke-width="1.1"/>
<circle cx="357.3" cy="345.4" r="2.25" fill="#0b4c8c"/>
<circle cx="361.9" cy="345.4" r="2.25" fill="#0b4c8c"/>
<circle cx="356.2" cy="351.6" r="2.25" fill="#0b4c8c"/>
<circle cx="360.1" cy="351.6" r="2.25" fill="#0b4c8c"/>
<circle cx="364.7" cy="351.6" r="2.25" fill="#0b4c8c"/>
<circle cx="386.7" cy="381.4" r="2.25" fill="#cf0a2c"/>
<circle cx="391.3" cy="381.4" r="2.25" fill="#cf0a2c"/>
<circle cx="384.9" cy="385.3" r="2.25" fill="#cf0a2c"/>
<circle cx="392.9" cy="386" r="2.25" fill="#cf0a2c"/>
<circle cx="389" cy="389" r="2.25" fill="#cf0a2c"/>
<line x1="426.5" y1="327.5" x2="426.5" y2="438.85" stroke="#2b2b2b" stroke-width="1.2"/>
<line x1="426.1" y1="438.5" x2="483.3" y2="438.5" stroke="#2b2b2b" stroke-width="1.2"/>
<line x1="423.5" y1="438.5" x2="426.7" y2="438.5" stroke="#2b2b2b" stroke-width="1.1"/>
<text x="420.9" y="441.15" font-size="7.9" text-anchor="end" font-weight="normal" font-style="normal" fill="#111" stroke="#111" stroke-width="0.22">0</text>
<line x1="423.5" y1="412.5" x2="426.7" y2="412.5" stroke="#2b2b2b" stroke-width="1.1"/>
<text x="420.9" y="415" font-size="7.9" text-anchor="end" font-weight="normal" font-style="normal" fill="#111" stroke="#111" stroke-width="0.22">1</text>
<line x1="423.5" y1="386.5" x2="426.7" y2="386.5" stroke="#2b2b2b" stroke-width="1.1"/>
<text x="420.9" y="388.85" font-size="7.9" text-anchor="end" font-weight="normal" font-style="normal" fill="#111" stroke="#111" stroke-width="0.22">2</text>
<line x1="423.5" y1="359.5" x2="426.7" y2="359.5" stroke="#2b2b2b" stroke-width="1.1"/>
<text x="420.9" y="362.7" font-size="7.9" text-anchor="end" font-weight="normal" font-style="normal" fill="#111" stroke="#111" stroke-width="0.22">3</text>
<line x1="423.5" y1="333.5" x2="426.7" y2="333.5" stroke="#2b2b2b" stroke-width="1.1"/>
<text x="420.9" y="336.55" font-size="7.9" text-anchor="end" font-weight="normal" font-style="normal" fill="#111" stroke="#111" stroke-width="0.22">4</text>
<line x1="440.5" y1="438.3" x2="440.5" y2="441.6" stroke="#2b2b2b" stroke-width="1.1"/>
<line x1="469.5" y1="438.3" x2="469.5" y2="441.6" stroke="#2b2b2b" stroke-width="1.1"/>
<g transform="translate(455.4,321.4) scale(0.92,1)">
<text x="0" y="0" font-size="9.6" text-anchor="middle" font-weight="normal" font-style="italic" fill="#141414" stroke="#141414" stroke-width="0.22">Tnf</text>
</g>
<line x1="439.7" y1="336.5" x2="468.9" y2="336.5" stroke="#2b2b2b" stroke-width="1.1"/>
<polygon points="454.3,329.1 454.86,330.53 456.39,330.62 455.2,331.59 455.59,333.08 454.3,332.25 453.01,333.08 453.4,331.59 452.21,330.62 453.74,330.53" fill="#1a1a1a"/>
<line x1="431.7" y1="347.5" x2="449.6" y2="347.5" stroke="#2b2b2b" stroke-width="1.1"/>
<line x1="440.5" y1="344.7" x2="440.5" y2="349.3" stroke="#2b2b2b" stroke-width="1.1"/>
<line x1="436.45" y1="344.5" x2="444.85" y2="344.5" stroke="#2b2b2b" stroke-width="1.1"/>
<line x1="436.45" y1="349.5" x2="444.85" y2="349.5" stroke="#2b2b2b" stroke-width="1.1"/>
<line x1="460.4" y1="396.5" x2="478" y2="396.5" stroke="#2b2b2b" stroke-width="1.1"/>
<line x1="469.5" y1="393.6" x2="469.5" y2="399.8" stroke="#2b2b2b" stroke-width="1.1"/>
<line x1="465" y1="393.5" x2="473.4" y2="393.5" stroke="#2b2b2b" stroke-width="1.1"/>
<line x1="465" y1="399.5" x2="473.4" y2="399.5" stroke="#2b2b2b" stroke-width="1.1"/>
<circle cx="436.3" cy="340.8" r="2.25" fill="#0b4c8c"/>
<circle cx="440.9" cy="340.8" r="2.25" fill="#0b4c8c"/>
<circle cx="436.7" cy="347" r="2.25" fill="#0b4c8c"/>
<circle cx="440.4" cy="353.9" r="2.25" fill="#0b4c8c"/>
<circle cx="445" cy="353.9" r="2.25" fill="#0b4c8c"/>
<circle cx="465.4" cy="386.7" r="2.25" fill="#cf0a2c"/>
<circle cx="468.9" cy="392.9" r="2.25" fill="#cf0a2c"/>
<circle cx="465.4" cy="396.3" r="2.25" fill="#cf0a2c"/>
<circle cx="473.7" cy="400.9" r="2.25" fill="#cf0a2c"/>
<circle cx="469.5" cy="404.8" r="2.25" fill="#cf0a2c"/>
<line x1="122.5" y1="493.4" x2="122.5" y2="602.65" stroke="#2b2b2b" stroke-width="1.2"/>
<line x1="121.8" y1="602.5" x2="190.4" y2="602.5" stroke="#2b2b2b" stroke-width="1.2"/>
<line x1="119.2" y1="602.5" x2="122.4" y2="602.5" stroke="#2b2b2b" stroke-width="1.1"/>
<text x="116.6" y="604.95" font-size="7.9" text-anchor="end" font-weight="normal" font-style="normal" fill="#111" stroke="#111" stroke-width="0.22">0</text>
<line x1="119.2" y1="581.5" x2="122.4" y2="581.5" stroke="#2b2b2b" stroke-width="1.1"/>
<text x="116.6" y="584.77" font-size="7.9" text-anchor="end" font-weight="normal" font-style="normal" fill="#111" stroke="#111" stroke-width="0.22">2</text>
<line x1="119.2" y1="561.5" x2="122.4" y2="561.5" stroke="#2b2b2b" stroke-width="1.1"/>
<text x="116.6" y="564.59" font-size="7.9" text-anchor="end" font-weight="normal" font-style="normal" fill="#111" stroke="#111" stroke-width="0.22">4</text>
<line x1="119.2" y1="541.5" x2="122.4" y2="541.5" stroke="#2b2b2b" stroke-width="1.1"/>
<text x="116.6" y="544.41" font-size="7.9" text-anchor="end" font-weight="normal" font-style="normal" fill="#111" stroke="#111" stroke-width="0.22">6</text>
<line x1="119.2" y1="521.5" x2="122.4" y2="521.5" stroke="#2b2b2b" stroke-width="1.1"/>
<text x="116.6" y="524.23" font-size="7.9" text-anchor="end" font-weight="normal" font-style="normal" fill="#111" stroke="#111" stroke-width="0.22">8</text>
<line x1="119.2" y1="501.5" x2="122.4" y2="501.5" stroke="#2b2b2b" stroke-width="1.1"/>
<text x="116.6" y="504.05" font-size="7.9" text-anchor="end" font-weight="normal" font-style="normal" fill="#111" stroke="#111" stroke-width="0.22">10</text>
<line x1="131.5" y1="602.1" x2="131.5" y2="605.4" stroke="#2b2b2b" stroke-width="1.1"/>
<line x1="148.5" y1="602.1" x2="148.5" y2="605.4" stroke="#2b2b2b" stroke-width="1.1"/>
<line x1="165.5" y1="602.1" x2="165.5" y2="605.4" stroke="#2b2b2b" stroke-width="1.1"/>
<line x1="182.5" y1="602.1" x2="182.5" y2="605.4" stroke="#2b2b2b" stroke-width="1.1"/>
<g transform="translate(156.9,487.9) scale(0.92,1)">
<text x="0" y="0" font-size="9.6" text-anchor="middle" font-weight="normal" font-style="italic" fill="#141414" stroke="#141414" stroke-width="0.22">Jund</text>
</g>
<g transform="translate(106,552.5) rotate(-90)">
<text x="0" y="0" font-size="10.2" text-anchor="middle" font-weight="normal" font-style="normal" fill="#141414" textLength="62" lengthAdjust="spacingAndGlyphs" stroke="#141414" stroke-width="0.14">mRNA fold change</text>
</g>
<line x1="147.1" y1="522.5" x2="166.7" y2="522.5" stroke="#2b2b2b" stroke-width="1.1"/>
<polygon points="152.3,515.6 152.86,517.03 154.39,517.12 153.2,518.09 153.59,519.58 152.3,518.75 151.01,519.58 151.4,518.09 150.21,517.12 151.74,517.03" fill="#1a1a1a"/>
<polygon points="156.9,515.6 157.46,517.03 158.99,517.12 157.8,518.09 158.19,519.58 156.9,518.75 155.61,519.58 156,518.09 154.81,517.12 156.34,517.03" fill="#1a1a1a"/>
<polygon points="161.5,515.6 162.06,517.03 163.59,517.12 162.4,518.09 162.79,519.58 161.5,518.75 160.21,519.58 160.6,518.09 159.41,517.12 160.94,517.03" fill="#1a1a1a"/>
<line x1="163.6" y1="504.5" x2="183.8" y2="504.5" stroke="#2b2b2b" stroke-width="1.1"/>
<polygon points="169.1,497.4 169.66,498.83 171.19,498.92 170,499.89 170.39,501.38 169.1,500.55 167.81,501.38 168.2,499.89 167.01,498.92 168.54,498.83" fill="#1a1a1a"/>
<polygon points="173.7,497.4 174.26,498.83 175.79,498.92 174.6,499.89 174.99,501.38 173.7,500.55 172.41,501.38 172.8,499.89 171.61,498.92 173.14,498.83" fill="#1a1a1a"/>
<polygon points="178.3,497.4 178.86,498.83 180.39,498.92 179.2,499.89 179.59,501.38 178.3,500.55 177.01,501.38 177.4,499.89 176.21,498.92 177.74,498.83" fill="#1a1a1a"/>
<line x1="126" y1="591.5" x2="137.4" y2="591.5" stroke="#2b2b2b" stroke-width="1.1"/>
<line x1="131.5" y1="590.3" x2="131.5" y2="593.3" stroke="#2b2b2b" stroke-width="1.1"/>
<line x1="128.7" y1="590.5" x2="134.7" y2="590.5" stroke="#2b2b2b" stroke-width="1.1"/>
<line x1="128.7" y1="593.5" x2="134.7" y2="593.5" stroke="#2b2b2b" stroke-width="1.1"/>
<line x1="142.2" y1="546.5" x2="155" y2="546.5" stroke="#2b2b2b" stroke-width="1.1"/>
<line x1="148.5" y1="539.2" x2="148.5" y2="554.2" stroke="#2b2b2b" stroke-width="1.1"/>
<line x1="145.6" y1="539.5" x2="151.6" y2="539.5" stroke="#2b2b2b" stroke-width="1.1"/>
<line x1="145.6" y1="554.5" x2="151.6" y2="554.5" stroke="#2b2b2b" stroke-width="1.1"/>
<line x1="158.7" y1="593.5" x2="171.9" y2="593.5" stroke="#2b2b2b" stroke-width="1.1"/>
<line x1="165.5" y1="589.6" x2="165.5" y2="597" stroke="#2b2b2b" stroke-width="1.1"/>
<line x1="162.3" y1="589.5" x2="168.3" y2="589.5" stroke="#2b2b2b" stroke-width="1.1"/>
<line x1="162.3" y1="597.5" x2="168.3" y2="597.5" stroke="#2b2b2b" stroke-width="1.1"/>
<line x1="176.5" y1="522.5" x2="189" y2="522.5" stroke="#2b2b2b" stroke-width="1.1"/>
<line x1="182.5" y1="518.4" x2="182.5" y2="526.7" stroke="#2b2b2b" stroke-width="1.1"/>
<line x1="179.75" y1="518.5" x2="185.75" y2="518.5" stroke="#2b2b2b" stroke-width="1.1"/>
<line x1="179.75" y1="526.5" x2="185.75" y2="526.5" stroke="#2b2b2b" stroke-width="1.1"/>
<circle cx="127.8" cy="591.8" r="2.25" fill="#5a1e80"/>
<circle cx="130.6" cy="590" r="2.25" fill="#5a1e80"/>
<circle cx="133.3" cy="590.9" r="2.25" fill="#5a1e80"/>
<circle cx="129.7" cy="593.7" r="2.25" fill="#5a1e80"/>
<circle cx="134.3" cy="592.8" r="2.25" fill="#5a1e80"/>
<circle cx="148.4" cy="527.6" r="2.25" fill="#0b4c8c"/>
<circle cx="144.9" cy="537.3" r="2.25" fill="#0b4c8c"/>
<circle cx="148.4" cy="541.4" r="2.25" fill="#0b4c8c"/>
<circle cx="151.7" cy="562.1" r="2.25" fill="#0b4c8c"/>
<circle cx="148.4" cy="564.9" r="2.25" fill="#0b4c8c"/>
<circle cx="165.5" cy="579.4" r="2.25" fill="#cf0a2c"/>
<circle cx="161.8" cy="597" r="2.25" fill="#cf0a2c"/>
<circle cx="165.5" cy="597.3" r="2.25" fill="#cf0a2c"/>
<circle cx="168.8" cy="597" r="2.25" fill="#cf0a2c"/>
<circle cx="165.5" cy="596" r="2.25" fill="#cf0a2c"/>
<circle cx="186.2" cy="510.2" r="2.25" fill="#3bb54a"/>
<circle cx="182.5" cy="516.1" r="2.25" fill="#3bb54a"/>
<circle cx="178.7" cy="522.7" r="2.25" fill="#3bb54a"/>
<circle cx="182.5" cy="527.6" r="2.25" fill="#3bb54a"/>
<circle cx="182.5" cy="537.3" r="2.25" fill="#3bb54a"/>
<line x1="221.5" y1="493.6" x2="221.5" y2="602.95" stroke="#2b2b2b" stroke-width="1.2"/>
<line x1="220.5" y1="602.5" x2="289.5" y2="602.5" stroke="#2b2b2b" stroke-width="1.2"/>
<line x1="217.9" y1="602.5" x2="221.1" y2="602.5" stroke="#2b2b2b" stroke-width="1.1"/>
<text x="215.3" y="605.25" font-size="7.9" text-anchor="end" font-weight="normal" font-style="normal" fill="#111" stroke="#111" stroke-width="0.22">0</text>
<line x1="217.9" y1="577.5" x2="221.1" y2="577.5" stroke="#2b2b2b" stroke-width="1.1"/>
<text x="215.3" y="580.45" font-size="7.9" text-anchor="end" font-weight="normal" font-style="normal" fill="#111" stroke="#111" stroke-width="0.22">5</text>
<line x1="217.9" y1="552.5" x2="221.1" y2="552.5" stroke="#2b2b2b" stroke-width="1.1"/>
<text x="215.3" y="555.65" font-size="7.9" text-anchor="end" font-weight="normal" font-style="normal" fill="#111" stroke="#111" stroke-width="0.22">10</text>
<line x1="217.9" y1="528.5" x2="221.1" y2="528.5" stroke="#2b2b2b" stroke-width="1.1"/>
<text x="215.3" y="530.85" font-size="7.9" text-anchor="end" font-weight="normal" font-style="normal" fill="#111" stroke="#111" stroke-width="0.22">15</text>
<line x1="217.9" y1="503.5" x2="221.1" y2="503.5" stroke="#2b2b2b" stroke-width="1.1"/>
<text x="215.3" y="506.05" font-size="7.9" text-anchor="end" font-weight="normal" font-style="normal" fill="#111" stroke="#111" stroke-width="0.22">20</text>
<line x1="229.5" y1="602.4" x2="229.5" y2="605.7" stroke="#2b2b2b" stroke-width="1.1"/>
<line x1="246.5" y1="602.4" x2="246.5" y2="605.7" stroke="#2b2b2b" stroke-width="1.1"/>
<line x1="263.5" y1="602.4" x2="263.5" y2="605.7" stroke="#2b2b2b" stroke-width="1.1"/>
<line x1="280.5" y1="602.4" x2="280.5" y2="605.7" stroke="#2b2b2b" stroke-width="1.1"/>
<g transform="translate(255.8,488.2) scale(0.92,1)">
<text x="0" y="0" font-size="9.6" text-anchor="middle" font-weight="normal" font-style="italic" fill="#141414" stroke="#141414" stroke-width="0.22">Il6</text>
</g>
<line x1="245.5" y1="535.5" x2="263.9" y2="535.5" stroke="#2b2b2b" stroke-width="1.1"/>
<polygon points="250.1,528.6 250.66,530.03 252.19,530.12 251,531.09 251.39,532.58 250.1,531.75 248.81,532.58 249.2,531.09 248.01,530.12 249.54,530.03" fill="#1a1a1a"/>
<polygon points="254.7,528.6 255.26,530.03 256.79,530.12 255.6,531.09 255.99,532.58 254.7,531.75 253.41,532.58 253.8,531.09 252.61,530.12 254.14,530.03" fill="#1a1a1a"/>
<polygon points="259.3,528.6 259.86,530.03 261.39,530.12 260.2,531.09 260.59,532.58 259.3,531.75 258.01,532.58 258.4,531.09 257.21,530.12 258.74,530.03" fill="#1a1a1a"/>
<line x1="262" y1="511.5" x2="280.4" y2="511.5" stroke="#2b2b2b" stroke-width="1.1"/>
<polygon points="266.6,504.8 267.16,506.23 268.69,506.32 267.5,507.29 267.89,508.78 266.6,507.95 265.31,508.78 265.7,507.29 264.51,506.32 266.04,506.23" fill="#1a1a1a"/>
<polygon points="271.2,504.8 271.76,506.23 273.29,506.32 272.1,507.29 272.49,508.78 271.2,507.95 269.91,508.78 270.3,507.29 269.11,506.32 270.64,506.23" fill="#1a1a1a"/>
<polygon points="275.8,504.8 276.36,506.23 277.89,506.32 276.7,507.29 277.09,508.78 275.8,507.95 274.51,508.78 274.9,507.29 273.71,506.32 275.24,506.23" fill="#1a1a1a"/>
<line x1="223.5" y1="598.5" x2="235" y2="598.5" stroke="#2b2b2b" stroke-width="1.1"/>
<line x1="229.5" y1="596.3" x2="229.5" y2="599.8" stroke="#2b2b2b" stroke-width="1.1"/>
<line x1="226.25" y1="596.5" x2="232.25" y2="596.5" stroke="#2b2b2b" stroke-width="1.1"/>
<line x1="226.25" y1="599.5" x2="232.25" y2="599.5" stroke="#2b2b2b" stroke-width="1.1"/>
<line x1="240.4" y1="555.5" x2="253.9" y2="555.5" stroke="#2b2b2b" stroke-width="1.1"/>
<line x1="247.5" y1="551.9" x2="247.5" y2="557.9" stroke="#2b2b2b" stroke-width="1.1"/>
<line x1="244.15" y1="551.5" x2="250.15" y2="551.5" stroke="#2b2b2b" stroke-width="1.1"/>
<line x1="244.15" y1="557.5" x2="250.15" y2="557.5" stroke="#2b2b2b" stroke-width="1.1"/>
<line x1="258" y1="599.5" x2="270" y2="599.5" stroke="#2b2b2b" stroke-width="1.1"/>
<line x1="264.5" y1="598.5" x2="264.5" y2="600.5" stroke="#2b2b2b" stroke-width="1.1"/>
<line x1="261" y1="598.5" x2="267" y2="598.5" stroke="#2b2b2b" stroke-width="1.1"/>
<line x1="261" y1="600.5" x2="267" y2="600.5" stroke="#2b2b2b" stroke-width="1.1"/>
<line x1="274.5" y1="541.5" x2="287.7" y2="541.5" stroke="#2b2b2b" stroke-width="1.1"/>
<line x1="281.5" y1="534" x2="281.5" y2="549.3" stroke="#2b2b2b" stroke-width="1.1"/>
<line x1="278.1" y1="534.5" x2="284.1" y2="534.5" stroke="#2b2b2b" stroke-width="1.1"/>
<line x1="278.1" y1="549.5" x2="284.1" y2="549.5" stroke="#2b2b2b" stroke-width="1.1"/>
<circle cx="227.9" cy="593.8" r="2.25" fill="#5a1e80"/>
<circle cx="225.4" cy="598.1" r="2.25" fill="#5a1e80"/>
<circle cx="229.6" cy="598.6" r="2.25" fill="#5a1e80"/>
<circle cx="232.9" cy="598.6" r="2.25" fill="#5a1e80"/>
<circle cx="227.9" cy="599.6" r="2.25" fill="#5a1e80"/>
<circle cx="246.4" cy="542.4" r="2.25" fill="#0b4c8c"/>
<circle cx="246.4" cy="552.5" r="2.25" fill="#0b4c8c"/>
<circle cx="242.5" cy="556.8" r="2.25" fill="#0b4c8c"/>
<circle cx="250.4" cy="560" r="2.25" fill="#0b4c8c"/>
<circle cx="246.8" cy="563.2" r="2.25" fill="#0b4c8c"/>
<circle cx="261.8" cy="598.6" r="2.25" fill="#cf0a2c"/>
<circle cx="263.9" cy="598.1" r="2.25" fill="#cf0a2c"/>
<circle cx="266.1" cy="599.2" r="2.25" fill="#cf0a2c"/>
<circle cx="260.7" cy="599.6" r="2.25" fill="#cf0a2c"/>
<circle cx="267.8" cy="599.6" r="2.25" fill="#cf0a2c"/>
<circle cx="280.4" cy="518.1" r="2.25" fill="#3bb54a"/>
<circle cx="280.4" cy="528.5" r="2.25" fill="#3bb54a"/>
<circle cx="276.3" cy="550.2" r="2.25" fill="#3bb54a"/>
<circle cx="284.4" cy="553.7" r="2.25" fill="#3bb54a"/>
<circle cx="280.4" cy="557" r="2.25" fill="#3bb54a"/>
<line x1="355.5" y1="518.3" x2="355.5" y2="522.3" stroke="#2b2b2b" stroke-width="1.1"/>
<line x1="351.85" y1="518.5" x2="358.25" y2="518.5" stroke="#2b2b2b" stroke-width="1.1"/>
<rect x="348.3" y="522.3" width="13.5" height="79.8" fill="#5b2572"/>
<line x1="375.5" y1="552.3" x2="375.5" y2="555.7" stroke="#2b2b2b" stroke-width="1.1"/>
<line x1="371.9" y1="552.5" x2="378.3" y2="552.5" stroke="#2b2b2b" stroke-width="1.1"/>
<rect x="368.2" y="555.7" width="13.8" height="46.4" fill="#0d4a82"/>
<line x1="395.5" y1="513" x2="395.5" y2="514.5" stroke="#2b2b2b" stroke-width="1.1"/>
<line x1="391.8" y1="513.5" x2="398.2" y2="513.5" stroke="#2b2b2b" stroke-width="1.1"/>
<rect x="388.2" y="514.5" width="13.6" height="87.6" fill="#c61430"/>
<line x1="414.5" y1="535.4" x2="414.5" y2="536.2" stroke="#2b2b2b" stroke-width="1.1"/>
<line x1="411.75" y1="535.5" x2="418.15" y2="535.5" stroke="#2b2b2b" stroke-width="1.1"/>
<rect x="408.1" y="536.2" width="13.7" height="65.9" fill="#3cb44b"/>
<line x1="345.5" y1="493.9" x2="345.5" y2="602.65" stroke="#2b2b2b" stroke-width="1.2"/>
<line x1="344.4" y1="602.5" x2="425.6" y2="602.5" stroke="#2b2b2b" stroke-width="1.2"/>
<line x1="341.8" y1="602.5" x2="345" y2="602.5" stroke="#2b2b2b" stroke-width="1.1"/>
<text x="339.2" y="604.95" font-size="7.9" text-anchor="end" font-weight="normal" font-style="normal" fill="#111" stroke="#111" stroke-width="0.22">0</text>
<line x1="341.8" y1="576.5" x2="345" y2="576.5" stroke="#2b2b2b" stroke-width="1.1"/>
<text x="339.2" y="578.95" font-size="7.9" text-anchor="end" font-weight="normal" font-style="normal" fill="#111" stroke="#111" stroke-width="0.22">2</text>
<line x1="341.8" y1="550.5" x2="345" y2="550.5" stroke="#2b2b2b" stroke-width="1.1"/>
<text x="339.2" y="552.95" font-size="7.9" text-anchor="end" font-weight="normal" font-style="normal" fill="#111" stroke="#111" stroke-width="0.22">4</text>
<line x1="341.8" y1="524.5" x2="345" y2="524.5" stroke="#2b2b2b" stroke-width="1.1"/>
<text x="339.2" y="526.95" font-size="7.9" text-anchor="end" font-weight="normal" font-style="normal" fill="#111" stroke="#111" stroke-width="0.22">6</text>
<line x1="341.8" y1="498.5" x2="345" y2="498.5" stroke="#2b2b2b" stroke-width="1.1"/>
<text x="339.2" y="500.95" font-size="7.9" text-anchor="end" font-weight="normal" font-style="normal" fill="#111" stroke="#111" stroke-width="0.22">8</text>
<line x1="355.5" y1="602.1" x2="355.5" y2="605.1" stroke="#2b2b2b" stroke-width="1.1"/>
<line x1="375.5" y1="602.1" x2="375.5" y2="605.1" stroke="#2b2b2b" stroke-width="1.1"/>
<line x1="395.5" y1="602.1" x2="395.5" y2="605.1" stroke="#2b2b2b" stroke-width="1.1"/>
<line x1="415.5" y1="602.1" x2="415.5" y2="605.1" stroke="#2b2b2b" stroke-width="1.1"/>
<line x1="355.4" y1="514.5" x2="374.5" y2="514.5" stroke="#2b2b2b" stroke-width="1.1"/>
<polygon points="360.3,507.5 360.86,508.93 362.39,509.02 361.2,509.99 361.59,511.48 360.3,510.65 359.01,511.48 359.4,509.99 358.21,509.02 359.74,508.93" fill="#1a1a1a"/>
<polygon points="364.9,507.5 365.46,508.93 366.99,509.02 365.8,509.99 366.19,511.48 364.9,510.65 363.61,511.48 364,509.99 362.81,509.02 364.34,508.93" fill="#1a1a1a"/>
<polygon points="369.5,507.5 370.06,508.93 371.59,509.02 370.4,509.99 370.79,511.48 369.5,510.65 368.21,511.48 368.6,509.99 367.41,509.02 368.94,508.93" fill="#1a1a1a"/>
<line x1="355.4" y1="503.5" x2="413.3" y2="503.5" stroke="#2b2b2b" stroke-width="1.1"/>
<polygon points="384.3,496.3 384.86,497.73 386.39,497.82 385.2,498.79 385.59,500.28 384.3,499.45 383.01,500.28 383.4,498.79 382.21,497.82 383.74,497.73" fill="#1a1a1a"/>
<g transform="translate(329.0,550.5) rotate(-90)">
<text x="0" y="0" font-size="10.2" text-anchor="middle" fill="#141414" stroke="#141414" stroke-width="0.14" textLength="79.5" lengthAdjust="spacingAndGlyphs"><tspan font-style="italic">Jund</tspan> mRNA fold change</text>
</g>
<g transform="translate(356.6,611.4) rotate(-45)">
<text x="0" y="0" font-size="7.8" text-anchor="end" font-weight="normal" font-style="normal" fill="#1e1e1e" stroke="#1e1e1e" stroke-width="0.22">Vehicle</text>
</g>
<g transform="translate(376.4,611.4) rotate(-45)">
<text x="0" y="0" font-size="7.8" text-anchor="end" font-weight="normal" font-style="normal" fill="#1e1e1e" stroke="#1e1e1e" stroke-width="0.22">STAT1i 1 &#181;M</text>
</g>
<g transform="translate(396.2,611.4) rotate(-45)">
<text x="0" y="0" font-size="7.8" text-anchor="end" font-weight="normal" font-style="normal" fill="#1e1e1e" stroke="#1e1e1e" stroke-width="0.22">NF-kBi 10 &#181;M</text>
</g>
<g transform="translate(416.2,611.4) rotate(-45)">
<text x="0" y="0" font-size="7.8" text-anchor="end" font-weight="normal" font-style="normal" fill="#1e1e1e" stroke="#1e1e1e" stroke-width="0.22">AP-1i 1 &#181;M</text>
</g>
<circle cx="488.3" cy="23.4" r="2.3" fill="#0b4c8c"/>
<text x="494" y="26.1" font-size="7.5" text-anchor="start" font-weight="normal" font-style="normal" fill="#1e1e1e" stroke="#1e1e1e" stroke-width="0.22">WT</text>
<circle cx="488.3" cy="33.5" r="2.3" fill="#cf0a2c"/>
<text x="494" y="36.2" font-size="7.5" text-anchor="start" font-weight="normal" font-style="normal" fill="#1e1e1e" stroke="#1e1e1e" stroke-width="0.22"><tspan font-style="italic">Ahr</tspan><tspan dy="-2.9" font-size="5.4">&#8722;/&#8722;</tspan></text>
<circle cx="488.3" cy="174.4" r="2.3" fill="#0b4c8c"/>
<text x="494" y="177.1" font-size="7.5" text-anchor="start" font-weight="normal" font-style="normal" fill="#1e1e1e" stroke="#1e1e1e" stroke-width="0.22">WT</text>
<circle cx="488.3" cy="184.6" r="2.3" fill="#cf0a2c"/>
<text x="494" y="187.3" font-size="7.5" text-anchor="start" font-weight="normal" font-style="normal" fill="#1e1e1e" stroke="#1e1e1e" stroke-width="0.22"><tspan font-style="italic">Ahr</tspan><tspan dy="-2.9" font-size="5.4">&#8722;/&#8722;</tspan></text>
<circle cx="267.9" cy="331.3" r="2.3" fill="#0b4c8c"/>
<text x="273.6" y="334" font-size="7.5" text-anchor="start" font-weight="normal" font-style="normal" fill="#1e1e1e" stroke="#1e1e1e" stroke-width="0.22">WT</text>
<circle cx="267.9" cy="341.4" r="2.3" fill="#cf0a2c"/>
<text x="273.6" y="344.1" font-size="7.5" text-anchor="start" font-weight="normal" font-style="normal" fill="#1e1e1e" stroke="#1e1e1e" stroke-width="0.22"><tspan font-style="italic">Ahr</tspan><tspan dy="-2.9" font-size="5.4">&#8722;/&#8722;</tspan></text>
<circle cx="403.5" cy="451.9" r="1.8" fill="#0b4c8c"/>
<text x="409.2" y="454.6" font-size="7.3" text-anchor="start" font-weight="normal" font-style="normal" fill="#1e1e1e" stroke="#1e1e1e" stroke-width="0.22">Vehicle</text>
<circle cx="403.5" cy="461.5" r="1.8" fill="#cf0a2c"/>
<text x="409.2" y="464.2" font-size="7.3" text-anchor="start" font-weight="normal" font-style="normal" fill="#1e1e1e" stroke="#1e1e1e" stroke-width="0.22">Tanshinone IIA</text>
<circle cx="128.8" cy="614.5" r="1.8" fill="#5a1e80"/>
<text x="134.5" y="617.2" font-size="7.3" text-anchor="start" font-weight="normal" font-style="normal" fill="#1e1e1e" stroke="#1e1e1e" stroke-width="0.22">PBS</text>
<circle cx="128.8" cy="623.8" r="1.8" fill="#0b4c8c"/>
<text x="134.5" y="626.5" font-size="7.3" text-anchor="start" font-weight="normal" font-style="normal" fill="#1e1e1e" stroke="#1e1e1e" stroke-width="0.22">IL-1&#946;</text>
<circle cx="128.8" cy="633.5" r="1.8" fill="#cf0a2c"/>
<text x="134.5" y="636.2" font-size="7.3" text-anchor="start" font-weight="normal" font-style="normal" fill="#1e1e1e" stroke="#1e1e1e" stroke-width="0.22">IL-1&#946; + L-Kyn</text>
<circle cx="128.8" cy="642.7" r="1.8" fill="#3bb54a"/>
<text x="134.5" y="645.4" font-size="7.3" text-anchor="start" font-weight="normal" font-style="normal" fill="#1e1e1e" stroke="#1e1e1e" stroke-width="0.22">IL-1&#946; + L-Kyn + CH-223191</text>
<rect x="0.5" y="0.5" width="519" height="653" fill="none" stroke="#000" stroke-width="1.2"/>
</svg>
</body></html>
